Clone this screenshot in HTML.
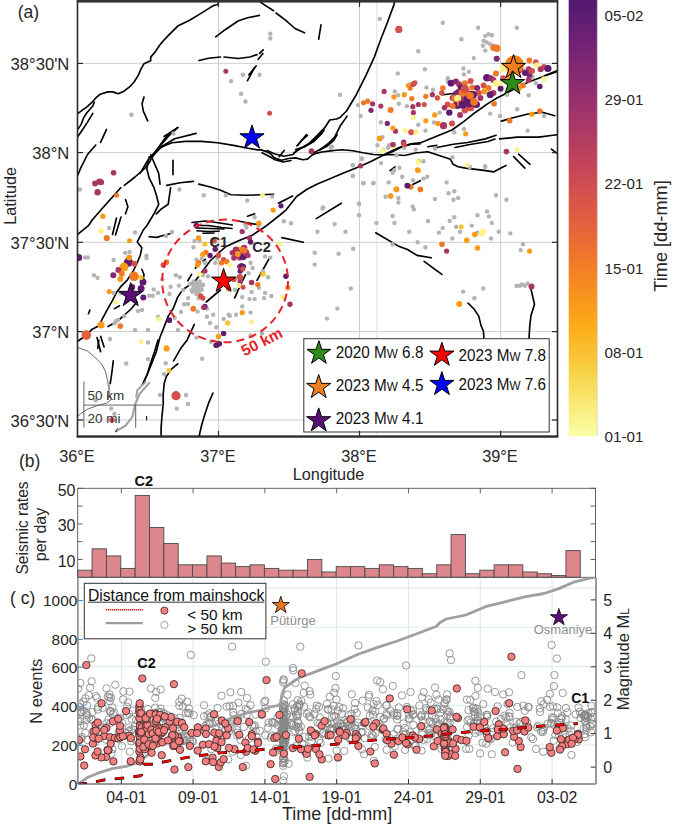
<!DOCTYPE html><html><head><meta charset="utf-8"><style>html,body{margin:0;padding:0;background:#fff;}svg{display:block;}</style></head><body><svg width="674" height="826" viewBox="0 0 674 826" font-family='"Liberation Sans", sans-serif'>
<rect x="0" y="0" width="674" height="826" fill="#fff"/>
<defs><clipPath id="mapclip"><rect x="77.5" y="1.5" width="480.0" height="434.8"/></clipPath>
<clipPath id="cclip"><rect x="77.9" y="577.6" width="517.8" height="206.4"/></clipPath>
<linearGradient id="cbar" x1="0" y1="0" x2="0" y2="1">
<stop offset="0.000" stop-color="#531971"/>
<stop offset="0.050" stop-color="#621e73"/>
<stop offset="0.100" stop-color="#712275"/>
<stop offset="0.150" stop-color="#802873"/>
<stop offset="0.200" stop-color="#8f2d70"/>
<stop offset="0.250" stop-color="#9e336c"/>
<stop offset="0.300" stop-color="#ad3a65"/>
<stop offset="0.350" stop-color="#bd405e"/>
<stop offset="0.400" stop-color="#c94955"/>
<stop offset="0.450" stop-color="#d6534b"/>
<stop offset="0.500" stop-color="#e15d41"/>
<stop offset="0.550" stop-color="#e96c34"/>
<stop offset="0.600" stop-color="#f17a28"/>
<stop offset="0.650" stop-color="#f68a21"/>
<stop offset="0.700" stop-color="#f99b1b"/>
<stop offset="0.750" stop-color="#fcac19"/>
<stop offset="0.800" stop-color="#fabe2f"/>
<stop offset="0.850" stop-color="#f7d146"/>
<stop offset="0.900" stop-color="#f8e163"/>
<stop offset="0.950" stop-color="#faf086"/>
<stop offset="1.000" stop-color="#fcffa9"/>
</linearGradient></defs>
<g stroke="#c8c8c8" stroke-width="0.9">
<line x1="218.5" y1="1.5" x2="218.5" y2="436.3"/>
<line x1="359.5" y1="1.5" x2="359.5" y2="436.3"/>
<line x1="500.6" y1="1.5" x2="500.6" y2="436.3"/>
<line x1="77.5" y1="63.4" x2="557.5" y2="63.4"/>
<line x1="77.5" y1="152.6" x2="557.5" y2="152.6"/>
<line x1="77.5" y1="242.3" x2="557.5" y2="242.3"/>
<line x1="77.5" y1="331.6" x2="557.5" y2="331.6"/>
<line x1="77.5" y1="420.0" x2="557.5" y2="420.0"/>
<line x1="376.8" y1="1.5" x2="376.8" y2="436.3" stroke="#dedede" stroke-width="0.9"/>
</g>
<g fill="none" stroke="#000" stroke-width="1.65" stroke-linecap="round" stroke-linejoin="round" clip-path="url(#mapclip)">
<polyline points="78.0,113.4 86.9,106.8 92.8,101.6 95.8,97.9 100.3,94.2 107.7,91.9 112.9,91.9 118.1,93.7 124.0,91.2 129.9,86.7 134.4,81.5 138.1,75.6 141.1,68.9 144.0,63.7 147.7,62.0 150.7,60.8 150.7,57.1 155.2,51.9 159.6,45.2 163.3,40.7 168.2,35.6 177.7,26.1 189.6,20.2 201.4,13.1 210.9,7.1 214.5,5.2 218.0,4.5 218.5,1.5"/>
<polyline points="94.3,102.3 92.8,106.0 86.9,112.7 83.9,117.2 81.0,124.6 78.0,129.0"/>
<polyline points="92.8,113.4 86.9,123.1 81.0,132.0 78.0,136.4"/>
<polyline points="215.7,36.8 225.2,29.7 238.0,21.0 247.5,17.8 259.4,15.4"/>
<polyline points="199.0,60.5 208.6,58.2 220.4,57.0"/>
<polyline points="224.0,57.0 238.0,58.5 249.9,57.0 257.0,54.6"/>
<polyline points="144.0,97.1 142.1,103.8 143.3,111.2 147.7,120.9"/>
<polyline points="106.5,129.4 100.6,142.4"/>
<polyline points="260.6,2.4 273.6,10.7"/>
<polyline points="276.0,13.0 285.5,20.2 295.0,28.5 304.5,32.8"/>
<polyline points="321.0,24.9 318.7,39.2"/>
<polyline points="258.2,59.3 262.9,53.4"/>
<polyline points="254.6,67.7 247.5,80.7"/>
<polyline points="394.5,1.5 393.9,4.9 387.3,22.8 380.8,39.2 374.3,57.1 366.1,75.1 356.3,94.7 346.5,111.0 340.0,117.5 336.5,119.0 329.7,120.0 324.8,127.7 317.1,135.5 309.4,143.2 299.7,149.0 293.9,152.9"/>
<polyline points="347.1,116.1 340.3,125.8 334.5,137.4 328.7,143.2 321.0,149.0 313.2,152.9"/>
<polyline points="306.5,134.5 297.7,145.2"/>
<polyline points="311.2,142.5 321.5,132.1"/>
<polyline points="284.2,150.4 279.2,156.7"/>
<polyline points="140.0,173.4 148.0,160.0 156.0,150.7 161.4,146.7 172.1,142.7 185.4,141.4 201.4,141.4 217.5,142.7 233.5,145.4 246.8,148.0 257.5,149.9 260.0,149.6 265.9,151.4 270.7,153.7 274.2,157.9 281.4,160.3 288.5,158.5 295.6,157.9 302.7,159.7 307.5,159.1 312.2,154.9 317.0,153.1 321.7,152.0 328.8,151.1 336.0,150.2 342.3,149.7 352.7,150.8 363.1,152.8 373.5,154.5 383.9,154.9 392.2,154.5 404.6,155.5 415.2,153.0 427.8,151.7 435.4,154.2 443.0,156.7 450.5,159.3 453.1,164.3 458.1,166.8 465.7,168.1 475.8,169.4 485.8,170.6 493.4,171.9 501.0,168.1 506.0,165.6"/>
<polyline points="262.0,152.8 269.0,156.2 275.0,159.8 283.0,162.0 291.0,160.5"/>
<polyline points="267.0,150.6 275.0,154.0 284.0,156.3 293.0,154.5 297.0,150.5"/>
<polyline points="295.6,149.6 305.1,146.6 313.4,141.9 321.7,133.6 324.1,130.0"/>
<polyline points="296.8,146.0 301.5,140.7 307.5,135.3"/>
<polyline points="319.3,150.2 326.5,146.6 333.6,140.7 337.2,134.7"/>
<polyline points="156.0,150.7 166.7,136.0 177.4,128.0"/>
<polyline points="161.4,146.7 174.7,138.7 196.1,133.4"/>
<polyline points="150.7,154.7 158.7,173.4 160.0,184.1"/>
<polyline points="166.7,185.4 180.1,182.8 193.4,181.4"/>
<polyline points="198.8,184.1 209.4,186.8 220.1,190.0 230.8,194.8 246.8,195.3 273.5,194.3"/>
<polyline points="383.9,154.9 392.2,151.8 402.6,146.6 410.9,144.1 420.0,144.0"/>
<polyline points="248.9,74.8 256.1,65.9"/>
<polyline points="259.6,53.4 263.2,49.9"/>
<polyline points="161.0,145.0 168.2,136.5 177.7,127.5"/>
<polyline points="164.0,136.4 178.0,127.5"/>
<polyline points="142.1,385.0 146.8,375.5 151.6,363.6 156.3,351.7 159.9,337.5 164.6,325.6 168.2,316.1 173.0,309.0 177.7,297.1 182.5,290.0 195.4,280.7 210.5,260.5 225.7,246.7 238.0,241.1 252.2,235.2 266.5,225.7 280.0,215.0 286.2,209.8 296.6,196.5 307.0,189.2 317.4,184.0 329.9,178.8 342.3,173.6 354.8,168.4 363.1,164.9 371.4,161.2 379.7,157.0 388.0,152.8 396.3,148.7 404.6,145.6 412.9,143.5 420.0,142.9 432.9,137.8 451.9,130.0 463.7,121.7 475.6,112.2 487.5,103.9 497.0,98.0 506.5,93.2 517.0,87.5 528.0,82.3 544.6,76.1 557.5,71.5"/>
<polyline points="545.0,75.5 557.5,70.5"/>
<polyline points="501.4,121.1 513.9,117.5 528.1,114.0 542.4,112.2 554.8,115.7"/>
<polyline points="442.8,94.8 451.2,93.7 461.5,92.7 471.9,91.7"/>
<polyline points="435.5,147.8 453.3,144.2 467.6,142.5 485.4,138.9 496.1,135.3"/>
<polyline points="455.0,147.5 470.0,144.5 488.0,141.5 495.0,139.0"/>
<polyline points="499.6,138.9 517.4,137.1 538.8,137.1 553.0,135.3 558.0,134.6"/>
<polyline points="427.8,146.7 436.7,145.4"/>
<polyline points="513.6,156.7 524.9,168.1"/>
<polyline points="518.6,154.2 530.0,164.3"/>
<polyline points="551.4,149.2 556.5,153.0"/>
<polyline points="390.0,170.6 395.0,166.8"/>
<polyline points="412.7,184.5 420.3,180.7"/>
<polyline points="95.8,145.0 87.5,154.5 80.4,168.7 78.0,174.7"/>
<polyline points="78.0,234.2 88.7,225.3 92.2,220.0 100.0,211.0 120.7,187.7"/>
<polyline points="124.3,185.4 135.0,177.0 144.5,168.7 149.2,162.8 151.6,158.0 156.3,152.1 161.1,147.4 165.8,145.0"/>
<polyline points="149.2,156.9 146.8,168.7 149.2,178.2 154.0,187.7 156.3,194.9 158.7,204.3 154.0,213.8 146.8,225.7 143.3,230.0 137.3,241.9 141.8,247.8 140.3,255.2 136.6,264.1 132.9,271.5 127.0,280.4 121.0,286.4 116.6,292.3 112.1,301.2 106.2,311.6 101.7,320.1 99.4,325.6 92.2,329.2 85.1,336.3 78.0,341.0"/>
<polyline points="173.0,160.4 173.0,174.7"/>
<polyline points="170.6,187.7 168.2,204.3 161.1,209.1 156.3,213.8"/>
<polyline points="125.5,199.6 127.9,206.7 125.5,213.8"/>
<polyline points="116.5,218.0 112.5,234.5"/>
<polyline points="121.0,217.0 115.5,235.0"/>
<polyline points="149.2,236.7 156.6,237.4 164.0,235.2 170.0,233.7"/>
<polyline points="278.4,203.2 292.6,196.0"/>
<polyline points="316.3,218.6 341.3,203.2"/>
<polyline points="281.9,237.6 303.3,242.3"/>
<polyline points="375.7,232.8 398.0,245.9 407.5,249.5 417.0,255.4 431.2,257.8"/>
<polyline points="424.1,261.3 433.6,268.4 441.9,274.4"/>
<polyline points="268.9,259.0 257.0,280.3"/>
<polyline points="238.0,221.0 257.0,224.5"/>
<polyline points="247.5,216.2 254.6,213.8"/>
<polyline points="141.8,269.3 144.0,274.5 143.3,279.0"/>
<polyline points="137.0,302.0 131.0,309.0 124.0,315.5 117.0,321.5 108.0,326.5"/>
<polyline points="119.5,305.7 114.4,308.6"/>
<polyline points="89.9,310.1 88.4,313.8"/>
<polyline points="97.0,337.5 100.6,351.7"/>
<polyline points="100.6,336.3 104.1,347.0"/>
<polyline points="98.8,340.0 97.7,348.3"/>
<polyline points="113.3,360.8 112.3,369.1 111.2,377.4 110.2,383.6"/>
<polyline points="158.0,340.0 154.9,350.4 150.7,362.8 147.6,373.2 144.5,380.5"/>
<polyline points="194.3,324.4 187.2,339.9 180.8,348.3 173.6,360.8"/>
<polyline points="177.7,363.9 171.5,369.1 166.3,376.4 164.2,383.6 163.2,394.0 163.2,404.4 162.1,414.8 161.1,427.2 161.1,436.3"/>
<polyline points="213.0,393.0 208.9,402.3 204.7,414.8 201.6,425.2 199.1,436.3"/>
<polyline points="220.4,290.0 213.3,296.0 206.2,302.0"/>
<polyline points="234.7,297.9 240.0,286.0 245.4,274.8"/>
<polyline points="468.0,303.1 474.0,309.0 478.7,316.1 481.1,325.6 483.5,331.5 483.9,338.7"/>
<polyline points="530.0,285.0 534.5,304.2 530.9,316.1 529.8,325.6 529.0,338.7"/>
<polyline points="117.5,429.3 116.0,431.5"/>
<polyline points="192.0,222.5 205.0,221.0 220.0,223.0 232.3,225.0"/>
<polyline points="194.0,225.5 208.0,225.5 222.0,227.5 232.0,228.5"/>
<polyline points="196.0,228.0 210.0,228.5 224.0,229.0"/>
<polyline points="197.0,230.8 208.0,231.5 219.0,231.2"/>
<polyline points="203.0,233.2 214.0,233.0"/>
<polyline points="187.8,280.7 191.6,274.4"/>
<polyline points="195.4,268.1 200.4,263.1"/>
<polyline points="203.0,261.0 205.5,259.3"/>
</g>
<g fill="none" stroke-linecap="round" stroke-linejoin="round" clip-path="url(#mapclip)">
<polyline stroke="#555" stroke-width="0.9" points="78,347.5 87.5,351 94.6,357 101.7,364.1 105.3,371.2 107.7,380.7 108.9,390.2 111.2,399.7 106.5,403.3 97,405.6 87.5,409.2 80.4,413.9 78,416"/>
<polyline stroke="#a3a3a3" stroke-width="2.2" points="149.2,383.1 139.7,393.8 135,404.5 132.6,416.3 125.5,425.8 117.2,430.6"/>
<polyline stroke="#a3a3a3" stroke-width="2" points="145.7,381.9 137.3,390.2 136.2,397.3"/>
<polyline stroke="#a3a3a3" stroke-width="1.8" points="109.2,385.7 108.7,394 108.1,399.2"/>
<path d="M146.3,416.5 q0.9,1.6 0.2,3.2" stroke="#000" stroke-width="1.1"/>
</g>
<g clip-path="url(#mapclip)">
<g fill="#b4b4b4">
<circle cx="330.9" cy="147.7" r="2.2"/>
<circle cx="361.7" cy="158.5" r="2.2"/>
<circle cx="352.9" cy="165.1" r="2.2"/>
<circle cx="352.9" cy="175.9" r="2.2"/>
<circle cx="363.7" cy="183.2" r="2.2"/>
<circle cx="373.3" cy="183.2" r="2.2"/>
<circle cx="404.2" cy="147.7" r="2.2"/>
<circle cx="396.5" cy="155.4" r="2.2"/>
<circle cx="399.5" cy="167.8" r="2.2"/>
<circle cx="392.6" cy="172.8" r="2.2"/>
<circle cx="402.2" cy="176.7" r="2.2"/>
<circle cx="427.3" cy="176.7" r="2.2"/>
<circle cx="423.5" cy="178.6" r="2.2"/>
<circle cx="385.6" cy="196.7" r="2.2"/>
<circle cx="398.4" cy="197.9" r="2.2"/>
<circle cx="398.4" cy="202.5" r="2.2"/>
<circle cx="412.7" cy="206.4" r="2.2"/>
<circle cx="413.8" cy="209.4" r="2.2"/>
<circle cx="435.0" cy="199.0" r="2.2"/>
<circle cx="446.6" cy="182.4" r="2.2"/>
<circle cx="448.5" cy="193.2" r="2.2"/>
<circle cx="454.3" cy="191.3" r="2.2"/>
<circle cx="458.2" cy="197.9" r="2.2"/>
<circle cx="453.5" cy="199.8" r="2.2"/>
<circle cx="469.8" cy="167.0" r="2.2"/>
<circle cx="485.2" cy="167.0" r="2.2"/>
<circle cx="496.0" cy="195.2" r="2.2"/>
<circle cx="506.4" cy="199.8" r="2.2"/>
<circle cx="323.1" cy="207.5" r="2.2"/>
<circle cx="334.7" cy="224.1" r="2.2"/>
<circle cx="317.4" cy="231.8" r="2.2"/>
<circle cx="345.5" cy="231.8" r="2.2"/>
<circle cx="359.0" cy="203.7" r="2.2"/>
<circle cx="359.0" cy="215.2" r="2.2"/>
<circle cx="376.4" cy="222.9" r="2.2"/>
<circle cx="392.6" cy="216.0" r="2.2"/>
<circle cx="394.5" cy="223.0" r="2.2"/>
<circle cx="409.2" cy="231.8" r="2.2"/>
<circle cx="428.1" cy="221.0" r="2.2"/>
<circle cx="449.7" cy="221.0" r="2.2"/>
<circle cx="454.3" cy="217.2" r="2.2"/>
<circle cx="456.2" cy="226.8" r="2.2"/>
<circle cx="442.7" cy="228.0" r="2.2"/>
<circle cx="438.9" cy="232.6" r="2.2"/>
<circle cx="452.4" cy="238.4" r="2.2"/>
<circle cx="460.1" cy="231.8" r="2.2"/>
<circle cx="471.7" cy="225.6" r="2.2"/>
<circle cx="477.5" cy="215.2" r="2.2"/>
<circle cx="487.1" cy="211.4" r="2.2"/>
<circle cx="489.0" cy="216.4" r="2.2"/>
<circle cx="491.7" cy="222.9" r="2.2"/>
<circle cx="491.0" cy="238.4" r="2.2"/>
<circle cx="498.7" cy="231.8" r="2.2"/>
<circle cx="510.3" cy="233.4" r="2.2"/>
<circle cx="477.5" cy="232.6" r="2.2"/>
<circle cx="417.7" cy="242.2" r="2.2"/>
<circle cx="425.4" cy="247.3" r="2.2"/>
<circle cx="392.6" cy="244.2" r="2.2"/>
<circle cx="314.7" cy="252.7" r="2.2"/>
<circle cx="338.6" cy="253.8" r="2.2"/>
<circle cx="353.2" cy="248.8" r="2.2"/>
<circle cx="314.7" cy="264.6" r="2.2"/>
<circle cx="523.0" cy="244.2" r="2.2"/>
<circle cx="520.7" cy="250.0" r="2.2"/>
<circle cx="350.9" cy="288.5" r="2.2"/>
<circle cx="337.4" cy="308.6" r="2.2"/>
<circle cx="327.0" cy="318.6" r="2.2"/>
<circle cx="483.3" cy="288.5" r="2.2"/>
<circle cx="463.2" cy="291.6" r="2.2"/>
<circle cx="474.4" cy="298.2" r="2.2"/>
<circle cx="519.9" cy="285.8" r="2.2"/>
<circle cx="524.9" cy="285.8" r="2.2"/>
<circle cx="527.6" cy="283.5" r="2.2"/>
<circle cx="381.0" cy="163.1" r="2.2"/>
<circle cx="383.0" cy="149.6" r="2.2"/>
<circle cx="388.0" cy="147.7" r="2.2"/>
<circle cx="415.7" cy="149.6" r="2.2"/>
<circle cx="423.5" cy="161.2" r="2.2"/>
<circle cx="435.0" cy="148.5" r="2.2"/>
<circle cx="452.4" cy="157.4" r="2.2"/>
<circle cx="485.2" cy="166.2" r="2.2"/>
<circle cx="388.7" cy="182.4" r="2.2"/>
<circle cx="413.0" cy="180.5" r="2.2"/>
<circle cx="394.5" cy="170.1" r="2.2"/>
<circle cx="522.0" cy="284.5" r="2.2"/>
<circle cx="516.5" cy="286.0" r="2.2"/>
<circle cx="379.8" cy="18.9" r="2.2"/>
<circle cx="442.8" cy="22.8" r="2.2"/>
<circle cx="478.1" cy="27.7" r="2.2"/>
<circle cx="516.9" cy="27.7" r="2.2"/>
<circle cx="461.4" cy="39.2" r="2.2"/>
<circle cx="418.3" cy="51.2" r="2.2"/>
<circle cx="485.3" cy="35.9" r="2.2"/>
<circle cx="488.5" cy="34.3" r="2.2"/>
<circle cx="491.8" cy="35.3" r="2.2"/>
<circle cx="483.6" cy="40.8" r="2.2"/>
<circle cx="486.9" cy="42.4" r="2.2"/>
<circle cx="490.2" cy="44.1" r="2.2"/>
<circle cx="493.4" cy="45.7" r="2.2"/>
<circle cx="483.0" cy="45.7" r="2.2"/>
<circle cx="485.3" cy="50.6" r="2.2"/>
<circle cx="498.3" cy="49.0" r="2.2"/>
<circle cx="473.8" cy="58.1" r="2.2"/>
<circle cx="424.9" cy="69.2" r="2.2"/>
<circle cx="397.8" cy="73.4" r="2.2"/>
<circle cx="463.4" cy="68.5" r="2.2"/>
<circle cx="468.9" cy="71.8" r="2.2"/>
<circle cx="464.0" cy="74.4" r="2.2"/>
<circle cx="447.7" cy="78.3" r="2.2"/>
<circle cx="447.7" cy="81.6" r="2.2"/>
<circle cx="415.7" cy="82.3" r="2.2"/>
<circle cx="410.2" cy="84.2" r="2.2"/>
<circle cx="394.8" cy="91.4" r="2.2"/>
<circle cx="398.1" cy="95.3" r="2.2"/>
<circle cx="358.0" cy="105.1" r="2.2"/>
<circle cx="360.6" cy="115.9" r="2.2"/>
<circle cx="380.8" cy="122.4" r="2.2"/>
<circle cx="398.8" cy="103.8" r="2.2"/>
<circle cx="406.9" cy="106.1" r="2.2"/>
<circle cx="418.3" cy="124.7" r="2.2"/>
<circle cx="434.0" cy="122.4" r="2.2"/>
<circle cx="425.5" cy="130.6" r="2.2"/>
<circle cx="439.6" cy="112.6" r="2.2"/>
<circle cx="490.2" cy="113.6" r="2.2"/>
<circle cx="500.0" cy="115.9" r="2.2"/>
<circle cx="507.1" cy="94.7" r="2.2"/>
<circle cx="528.7" cy="95.3" r="2.2"/>
<circle cx="517.2" cy="109.3" r="2.2"/>
<circle cx="527.7" cy="130.6" r="2.2"/>
<circle cx="544.0" cy="115.9" r="2.2"/>
<circle cx="518.9" cy="71.8" r="2.2"/>
<circle cx="523.4" cy="70.2" r="2.2"/>
<circle cx="532.6" cy="76.7" r="2.2"/>
<circle cx="535.8" cy="83.2" r="2.2"/>
<circle cx="382.4" cy="137.1" r="2.2"/>
<circle cx="377.5" cy="145.3" r="2.2"/>
<circle cx="389.0" cy="145.3" r="2.2"/>
<circle cx="454.2" cy="132.2" r="2.2"/>
<circle cx="464.0" cy="128.9" r="2.2"/>
<circle cx="433.0" cy="89.8" r="2.2"/>
<circle cx="426.5" cy="87.5" r="2.2"/>
<circle cx="340.0" cy="94.7" r="2.2"/>
<circle cx="270.3" cy="33.8" r="2.2"/>
<circle cx="270.3" cy="38.5" r="2.2"/>
<circle cx="242.9" cy="74.8" r="2.2"/>
<circle cx="259.6" cy="74.8" r="2.2"/>
<circle cx="231.1" cy="81.2" r="2.2"/>
<circle cx="241.1" cy="93.7" r="2.2"/>
<circle cx="245.4" cy="101.5" r="2.2"/>
<circle cx="131.4" cy="114.7" r="2.2"/>
<circle cx="173.4" cy="133.5" r="2.2"/>
<circle cx="179.5" cy="189.5" r="2.2"/>
<circle cx="203.7" cy="195.2" r="2.2"/>
<circle cx="225.8" cy="195.2" r="2.2"/>
<circle cx="247.2" cy="200.5" r="2.2"/>
<circle cx="272.1" cy="196.6" r="2.2"/>
<circle cx="79.8" cy="189.5" r="2.2"/>
<circle cx="332.0" cy="146.6" r="2.2"/>
<circle cx="362.0" cy="159.0" r="2.2"/>
<circle cx="352.7" cy="165.3" r="2.2"/>
<circle cx="352.7" cy="175.7" r="2.2"/>
<circle cx="363.1" cy="183.0" r="2.2"/>
<circle cx="373.5" cy="183.0" r="2.2"/>
<circle cx="359.0" cy="203.7" r="2.2"/>
<circle cx="322.6" cy="208.5" r="2.2"/>
<circle cx="126.2" cy="363.5" r="2.2"/>
<circle cx="148.0" cy="359.1" r="2.2"/>
<circle cx="148.0" cy="342.5" r="2.2"/>
<circle cx="165.7" cy="363.3" r="2.2"/>
<circle cx="164.2" cy="374.3" r="2.2"/>
<circle cx="202.2" cy="358.7" r="2.2"/>
<circle cx="176.7" cy="408.6" r="2.2"/>
<circle cx="95.7" cy="400.2" r="2.2"/>
<circle cx="111.2" cy="408.6" r="2.2"/>
<circle cx="114.4" cy="413.7" r="2.2"/>
<circle cx="135.0" cy="232.5" r="2.2"/>
<circle cx="125.2" cy="252.9" r="2.2"/>
<circle cx="129.6" cy="252.0" r="2.2"/>
<circle cx="146.5" cy="255.6" r="2.2"/>
<circle cx="146.5" cy="258.3" r="2.2"/>
<circle cx="113.6" cy="260.0" r="2.2"/>
<circle cx="94.0" cy="275.2" r="2.2"/>
<circle cx="97.6" cy="277.9" r="2.2"/>
<circle cx="113.6" cy="293.0" r="2.2"/>
<circle cx="120.7" cy="293.0" r="2.2"/>
<circle cx="153.7" cy="289.4" r="2.2"/>
<circle cx="149.2" cy="295.7" r="2.2"/>
<circle cx="152.8" cy="295.7" r="2.2"/>
<circle cx="142.1" cy="309.9" r="2.2"/>
<circle cx="124.3" cy="316.1" r="2.2"/>
<circle cx="116.3" cy="320.6" r="2.2"/>
<circle cx="114.5" cy="323.3" r="2.2"/>
<circle cx="109.2" cy="228.0" r="2.2"/>
<circle cx="85.1" cy="257.4" r="2.2"/>
<circle cx="87.8" cy="257.4" r="2.2"/>
<circle cx="166.0" cy="236.0" r="2.2"/>
<circle cx="172.0" cy="232.0" r="2.2"/>
<circle cx="183.0" cy="290.0" r="2.2"/>
<circle cx="110.0" cy="339.0" r="2.2"/>
<circle cx="118.0" cy="320.0" r="2.2"/>
<circle cx="135.0" cy="330.0" r="2.2"/>
<circle cx="148.0" cy="330.0" r="2.2"/>
<circle cx="138.0" cy="311.0" r="2.2"/>
<circle cx="158.0" cy="293.0" r="2.2"/>
<circle cx="181.0" cy="312.0" r="2.2"/>
<circle cx="188.0" cy="304.0" r="2.2"/>
<circle cx="178.0" cy="330.0" r="2.2"/>
<circle cx="160.0" cy="395.0" r="2.2"/>
<circle cx="186.0" cy="395.0" r="2.2"/>
<circle cx="188.0" cy="404.0" r="2.2"/>
<circle cx="194.5" cy="241.0" r="2.2"/>
<circle cx="193.4" cy="247.2" r="2.2"/>
<circle cx="199.7" cy="241.0" r="2.2"/>
<circle cx="201.7" cy="258.6" r="2.2"/>
<circle cx="196.5" cy="259.7" r="2.2"/>
<circle cx="197.6" cy="264.9" r="2.2"/>
<circle cx="204.9" cy="262.8" r="2.2"/>
<circle cx="215.2" cy="262.8" r="2.2"/>
<circle cx="217.3" cy="258.6" r="2.2"/>
<circle cx="202.8" cy="275.2" r="2.2"/>
<circle cx="197.6" cy="282.5" r="2.2"/>
<circle cx="195.5" cy="285.6" r="2.2"/>
<circle cx="199.7" cy="286.7" r="2.2"/>
<circle cx="193.4" cy="287.7" r="2.2"/>
<circle cx="195.5" cy="289.8" r="2.2"/>
<circle cx="192.4" cy="291.9" r="2.2"/>
<circle cx="198.6" cy="291.9" r="2.2"/>
<circle cx="201.7" cy="285.6" r="2.2"/>
<circle cx="175.8" cy="275.2" r="2.2"/>
<circle cx="179.9" cy="277.3" r="2.2"/>
<circle cx="162.3" cy="279.4" r="2.2"/>
<circle cx="170.6" cy="286.7" r="2.2"/>
<circle cx="178.9" cy="285.6" r="2.2"/>
<circle cx="169.5" cy="293.9" r="2.2"/>
<circle cx="188.2" cy="298.1" r="2.2"/>
<circle cx="184.1" cy="304.3" r="2.2"/>
<circle cx="198.6" cy="298.1" r="2.2"/>
<circle cx="206.9" cy="308.5" r="2.2"/>
<circle cx="197.6" cy="311.6" r="2.2"/>
<circle cx="206.9" cy="316.8" r="2.2"/>
<circle cx="213.2" cy="314.7" r="2.2"/>
<circle cx="229.8" cy="315.7" r="2.2"/>
<circle cx="235.0" cy="289.8" r="2.2"/>
<circle cx="238.1" cy="277.3" r="2.2"/>
<circle cx="242.2" cy="297.1" r="2.2"/>
<circle cx="249.5" cy="299.1" r="2.2"/>
<circle cx="254.7" cy="299.1" r="2.2"/>
<circle cx="251.6" cy="291.9" r="2.2"/>
<circle cx="242.2" cy="306.4" r="2.2"/>
<circle cx="236.0" cy="314.7" r="2.2"/>
<circle cx="250.6" cy="312.6" r="2.2"/>
<circle cx="264.1" cy="298.1" r="2.2"/>
<circle cx="265.1" cy="292.9" r="2.2"/>
<circle cx="258.9" cy="287.7" r="2.2"/>
<circle cx="271.3" cy="296.0" r="2.2"/>
<circle cx="268.2" cy="277.3" r="2.2"/>
<circle cx="263.0" cy="271.1" r="2.2"/>
<circle cx="265.1" cy="256.5" r="2.2"/>
<circle cx="270.3" cy="257.6" r="2.2"/>
<circle cx="250.6" cy="262.8" r="2.2"/>
<circle cx="252.6" cy="268.0" r="2.2"/>
<circle cx="248.5" cy="273.2" r="2.2"/>
<circle cx="246.4" cy="227.5" r="2.2"/>
<circle cx="245.4" cy="224.3" r="2.2"/>
<circle cx="258.9" cy="225.4" r="2.2"/>
<circle cx="254.7" cy="217.1" r="2.2"/>
<circle cx="283.8" cy="221.2" r="2.2"/>
<circle cx="291.1" cy="223.3" r="2.2"/>
<circle cx="279.6" cy="244.1" r="2.2"/>
<circle cx="210.0" cy="323.0" r="2.2"/>
<circle cx="223.6" cy="318.9" r="2.2"/>
<circle cx="228.7" cy="314.7" r="2.2"/>
<circle cx="216.3" cy="327.2" r="2.2"/>
<circle cx="196.5" cy="337.6" r="2.2"/>
<circle cx="262.0" cy="333.4" r="2.2"/>
<circle cx="250.6" cy="335.5" r="2.2"/>
<circle cx="158.1" cy="316.8" r="2.2"/>
<circle cx="174.7" cy="317.8" r="2.2"/>
<circle cx="211.1" cy="341.7" r="2.2"/>
<circle cx="208.0" cy="276.3" r="2.2"/>
<circle cx="201.7" cy="289.8" r="2.2"/>
<circle cx="193.4" cy="281.5" r="2.2"/>
<circle cx="195.5" cy="283.6" r="2.2"/>
<circle cx="196.5" cy="283.6" r="2.2"/>
<circle cx="194.5" cy="286.7" r="2.2"/>
<circle cx="197.6" cy="288.7" r="2.2"/>
<circle cx="199.7" cy="281.5" r="2.2"/>
<circle cx="196.5" cy="293.9" r="2.2"/>
<circle cx="194.1" cy="285.2" r="2.2"/>
<circle cx="198.6" cy="284.6" r="2.2"/>
<circle cx="203.1" cy="285.1" r="2.2"/>
<circle cx="195.4" cy="291.1" r="2.2"/>
<circle cx="198.4" cy="286.6" r="2.2"/>
<circle cx="203.0" cy="284.7" r="2.2"/>
<circle cx="190.0" cy="284.1" r="2.2"/>
<circle cx="191.5" cy="290.1" r="2.2"/>
<circle cx="199.1" cy="282.9" r="2.2"/>
<circle cx="198.0" cy="290.2" r="2.2"/>
</g>
<circle cx="225.8" cy="71.2" r="2.5" fill="#a83665"/>
<circle cx="269.6" cy="113.2" r="2.5" fill="#d4504a"/>
<circle cx="311.3" cy="151.4" r="2.6" fill="#a83665"/>
<circle cx="113.6" cy="172.7" r="2.8" fill="#a83665"/>
<circle cx="95.1" cy="183.4" r="3.0" fill="#a83665"/>
<circle cx="99.4" cy="181.6" r="3.2" fill="#a83665"/>
<circle cx="101.1" cy="182.3" r="3.0" fill="#a83665"/>
<circle cx="97.6" cy="192.3" r="3.2" fill="#a83665"/>
<circle cx="116.5" cy="195.2" r="2.5" fill="#f17926"/>
<circle cx="102.9" cy="216.2" r="2.7" fill="#f99a19"/>
<circle cx="262.5" cy="195.2" r="2.5" fill="#faf38b"/>
<circle cx="273.2" cy="210.1" r="2.6" fill="#f99a19"/>
<circle cx="281.0" cy="205.8" r="2.6" fill="#601b71"/>
<circle cx="101.0" cy="230.5" r="2.5" fill="#faf38b"/>
<circle cx="106.5" cy="238.0" r="2.7" fill="#f17926"/>
<circle cx="128.4" cy="262.3" r="4.5" fill="#601b71"/>
<circle cx="124.0" cy="267.1" r="4.5" fill="#f99a19"/>
<circle cx="129.2" cy="257.4" r="3.0" fill="#f99a19"/>
<circle cx="134.4" cy="263.8" r="3.0" fill="#d4504a"/>
<circle cx="118.4" cy="270.1" r="3.0" fill="#a83665"/>
<circle cx="121.8" cy="273.8" r="3.0" fill="#f17926"/>
<circle cx="113.3" cy="275.3" r="3.0" fill="#822771"/>
<circle cx="120.3" cy="279.0" r="3.0" fill="#f99a19"/>
<circle cx="134.1" cy="276.3" r="4.8" fill="#f17926"/>
<circle cx="143.0" cy="281.9" r="3.5" fill="#601b71"/>
<circle cx="141.1" cy="288.6" r="3.5" fill="#601b71"/>
<circle cx="143.3" cy="297.5" r="3.0" fill="#601b71"/>
<circle cx="132.2" cy="287.1" r="3.0" fill="#601b71"/>
<circle cx="141.1" cy="277.5" r="2.5" fill="#f9c334"/>
<circle cx="115.8" cy="302.3" r="2.5" fill="#faf38b"/>
<circle cx="109.2" cy="291.6" r="2.6" fill="#f99a19"/>
<circle cx="129.5" cy="240.8" r="2.5" fill="#f99a19"/>
<circle cx="106.9" cy="238.2" r="3.0" fill="#f17926"/>
<circle cx="101.0" cy="231.2" r="2.5" fill="#faf38b"/>
<circle cx="78.7" cy="257.4" r="3.5" fill="#601b71"/>
<circle cx="163.3" cy="264.9" r="2.5" fill="#d4504a"/>
<circle cx="166.7" cy="261.9" r="2.5" fill="#f17926"/>
<circle cx="86.3" cy="335.1" r="4.8" fill="#e3603b"/>
<circle cx="101.0" cy="325.1" r="3.5" fill="#f99a19"/>
<circle cx="120.3" cy="326.1" r="2.8" fill="#f17926"/>
<circle cx="140.9" cy="341.5" r="2.3" fill="#faf38b"/>
<circle cx="166.7" cy="348.7" r="2.9" fill="#f99a19"/>
<circle cx="169.0" cy="370.5" r="2.5" fill="#f9c334"/>
<circle cx="176.0" cy="395.7" r="4.6" fill="#d4504a"/>
<circle cx="169.4" cy="320.4" r="2.6" fill="#601b71"/>
<circle cx="112.0" cy="420.0" r="2.8" fill="#d4504a"/>
<circle cx="141.4" cy="341.7" r="2.3" fill="#faf38b"/>
<circle cx="216.1" cy="345.2" r="2.8" fill="#601b71"/>
<circle cx="193.1" cy="309.0" r="2.6" fill="#f17926"/>
<circle cx="398.8" cy="29.4" r="3.6" fill="#d4504a"/>
<circle cx="496.7" cy="48.3" r="3.8" fill="#f17926"/>
<circle cx="493.5" cy="47.8" r="3.2" fill="#f17926"/>
<circle cx="496.7" cy="58.8" r="3.0" fill="#822771"/>
<circle cx="503.2" cy="68.5" r="3.8" fill="#faf38b"/>
<circle cx="529.3" cy="60.4" r="2.8" fill="#f17926"/>
<circle cx="535.8" cy="62.0" r="2.8" fill="#d4504a"/>
<circle cx="536.8" cy="65.3" r="2.8" fill="#faf38b"/>
<circle cx="544.0" cy="66.9" r="2.8" fill="#d4504a"/>
<circle cx="547.9" cy="68.5" r="3.6" fill="#601b71"/>
<circle cx="540.7" cy="69.2" r="3.0" fill="#a83665"/>
<circle cx="528.7" cy="69.2" r="3.0" fill="#a83665"/>
<circle cx="529.3" cy="75.1" r="3.0" fill="#822771"/>
<circle cx="528.7" cy="80.0" r="3.0" fill="#a83665"/>
<circle cx="544.0" cy="79.0" r="2.8" fill="#faf38b"/>
<circle cx="539.8" cy="86.5" r="2.8" fill="#601b71"/>
<circle cx="522.8" cy="85.5" r="3.0" fill="#f17926"/>
<circle cx="518.9" cy="88.1" r="2.8" fill="#f99a19"/>
<circle cx="525.0" cy="73.0" r="3.0" fill="#601b71"/>
<circle cx="532.0" cy="71.0" r="3.0" fill="#d4504a"/>
<circle cx="520.0" cy="70.0" r="3.0" fill="#a83665"/>
<circle cx="486.9" cy="77.7" r="3.8" fill="#601b71"/>
<circle cx="490.8" cy="78.3" r="3.0" fill="#822771"/>
<circle cx="493.4" cy="80.0" r="3.0" fill="#a83665"/>
<circle cx="496.0" cy="83.2" r="3.2" fill="#faf38b"/>
<circle cx="500.0" cy="85.5" r="3.4" fill="#faf38b"/>
<circle cx="483.6" cy="85.5" r="3.0" fill="#d4504a"/>
<circle cx="488.5" cy="88.1" r="3.0" fill="#f17926"/>
<circle cx="493.4" cy="93.0" r="3.0" fill="#a83665"/>
<circle cx="490.2" cy="94.7" r="3.4" fill="#601b71"/>
<circle cx="484.3" cy="91.4" r="3.0" fill="#f99a19"/>
<circle cx="496.0" cy="73.4" r="3.0" fill="#f17926"/>
<circle cx="503.2" cy="78.3" r="3.0" fill="#d4504a"/>
<circle cx="500.6" cy="88.8" r="3.0" fill="#601b71"/>
<circle cx="509.7" cy="78.3" r="2.8" fill="#f99a19"/>
<circle cx="451.0" cy="83.2" r="3.4" fill="#601b71"/>
<circle cx="455.9" cy="81.6" r="3.0" fill="#822771"/>
<circle cx="459.1" cy="84.2" r="3.0" fill="#a83665"/>
<circle cx="465.0" cy="83.2" r="3.0" fill="#f17926"/>
<circle cx="470.6" cy="81.0" r="3.0" fill="#d4504a"/>
<circle cx="461.4" cy="88.1" r="3.6" fill="#601b71"/>
<circle cx="466.6" cy="92.0" r="3.2" fill="#d4504a"/>
<circle cx="472.2" cy="87.5" r="3.0" fill="#f17926"/>
<circle cx="477.1" cy="88.1" r="3.0" fill="#822771"/>
<circle cx="455.9" cy="94.7" r="3.6" fill="#601b71"/>
<circle cx="452.6" cy="97.9" r="3.0" fill="#a83665"/>
<circle cx="457.5" cy="104.5" r="4.6" fill="#601b71"/>
<circle cx="462.4" cy="97.9" r="3.2" fill="#faf38b"/>
<circle cx="468.0" cy="103.8" r="4.6" fill="#f17926"/>
<circle cx="473.8" cy="101.2" r="3.2" fill="#d4504a"/>
<circle cx="470.6" cy="107.7" r="3.6" fill="#d4504a"/>
<circle cx="476.4" cy="104.5" r="3.6" fill="#601b71"/>
<circle cx="480.4" cy="97.9" r="3.0" fill="#a83665"/>
<circle cx="478.7" cy="93.0" r="3.0" fill="#d4504a"/>
<circle cx="447.7" cy="104.5" r="3.0" fill="#d4504a"/>
<circle cx="449.3" cy="112.6" r="3.2" fill="#601b71"/>
<circle cx="460.1" cy="114.9" r="3.0" fill="#a83665"/>
<circle cx="442.8" cy="88.1" r="2.8" fill="#f17926"/>
<circle cx="441.8" cy="93.0" r="2.8" fill="#d4504a"/>
<circle cx="437.9" cy="97.9" r="2.8" fill="#faf38b"/>
<circle cx="444.5" cy="107.7" r="2.8" fill="#a83665"/>
<circle cx="452.6" cy="106.1" r="3.0" fill="#f17926"/>
<circle cx="465.0" cy="110.0" r="3.4" fill="#d4504a"/>
<circle cx="470.0" cy="96.0" r="3.4" fill="#d4504a"/>
<circle cx="458.0" cy="92.0" r="3.0" fill="#a83665"/>
<circle cx="384.1" cy="91.4" r="2.6" fill="#a83665"/>
<circle cx="393.9" cy="96.9" r="2.6" fill="#f99a19"/>
<circle cx="404.3" cy="94.7" r="2.6" fill="#f99a19"/>
<circle cx="408.5" cy="85.5" r="2.6" fill="#f99a19"/>
<circle cx="413.4" cy="84.2" r="2.6" fill="#a83665"/>
<circle cx="410.2" cy="88.1" r="2.6" fill="#f17926"/>
<circle cx="363.5" cy="102.8" r="2.6" fill="#f17926"/>
<circle cx="367.7" cy="101.2" r="2.6" fill="#f17926"/>
<circle cx="372.6" cy="103.8" r="2.6" fill="#a83665"/>
<circle cx="371.0" cy="110.3" r="2.6" fill="#822771"/>
<circle cx="380.8" cy="106.1" r="2.6" fill="#a83665"/>
<circle cx="390.6" cy="110.0" r="3.0" fill="#f17926"/>
<circle cx="411.8" cy="98.6" r="2.6" fill="#f17926"/>
<circle cx="412.8" cy="106.7" r="2.6" fill="#a83665"/>
<circle cx="418.3" cy="104.5" r="2.6" fill="#a83665"/>
<circle cx="424.2" cy="104.5" r="2.6" fill="#d4504a"/>
<circle cx="437.3" cy="97.9" r="2.6" fill="#d4504a"/>
<circle cx="432.4" cy="94.7" r="2.6" fill="#a83665"/>
<circle cx="413.4" cy="112.6" r="2.6" fill="#a83665"/>
<circle cx="413.4" cy="117.5" r="2.6" fill="#faf38b"/>
<circle cx="425.8" cy="120.8" r="2.6" fill="#f99a19"/>
<circle cx="434.7" cy="114.9" r="2.6" fill="#f99a19"/>
<circle cx="437.9" cy="123.4" r="2.6" fill="#f99a19"/>
<circle cx="443.5" cy="125.7" r="3.6" fill="#a83665"/>
<circle cx="452.0" cy="123.4" r="3.0" fill="#d4504a"/>
<circle cx="405.3" cy="130.6" r="2.6" fill="#faf38b"/>
<circle cx="411.2" cy="132.2" r="3.0" fill="#d4504a"/>
<circle cx="416.1" cy="132.2" r="2.6" fill="#faf38b"/>
<circle cx="395.5" cy="131.2" r="2.6" fill="#a83665"/>
<circle cx="392.9" cy="128.0" r="2.6" fill="#f99a19"/>
<circle cx="387.3" cy="123.4" r="2.6" fill="#822771"/>
<circle cx="379.8" cy="138.7" r="2.6" fill="#f17926"/>
<circle cx="403.7" cy="142.0" r="2.6" fill="#822771"/>
<circle cx="393.2" cy="146.2" r="2.6" fill="#faf38b"/>
<circle cx="465.7" cy="133.8" r="2.6" fill="#f99a19"/>
<circle cx="494.1" cy="103.8" r="2.8" fill="#f17926"/>
<circle cx="425.8" cy="96.3" r="2.6" fill="#f17926"/>
<circle cx="414.4" cy="83.2" r="2.6" fill="#d4504a"/>
<circle cx="539.8" cy="111.0" r="2.8" fill="#f17926"/>
<circle cx="509.7" cy="120.8" r="2.8" fill="#f17926"/>
<circle cx="531.9" cy="114.2" r="2.6" fill="#f99a19"/>
<circle cx="311.6" cy="150.8" r="2.6" fill="#a83665"/>
<circle cx="360.6" cy="165.8" r="2.6" fill="#a83665"/>
<circle cx="403.4" cy="143.1" r="2.6" fill="#a83665"/>
<circle cx="392.6" cy="144.6" r="2.6" fill="#d4504a"/>
<circle cx="383.0" cy="150.8" r="2.5" fill="#faf38b"/>
<circle cx="418.8" cy="161.2" r="2.5" fill="#f9c334"/>
<circle cx="417.7" cy="170.1" r="2.8" fill="#f99a19"/>
<circle cx="396.5" cy="189.4" r="2.8" fill="#f99a19"/>
<circle cx="390.7" cy="195.9" r="2.6" fill="#f17926"/>
<circle cx="407.3" cy="185.5" r="2.8" fill="#601b71"/>
<circle cx="410.7" cy="187.1" r="2.6" fill="#f17926"/>
<circle cx="420.4" cy="189.4" r="2.8" fill="#f17926"/>
<circle cx="467.1" cy="165.1" r="2.5" fill="#faf38b"/>
<circle cx="506.4" cy="151.6" r="2.8" fill="#a83665"/>
<circle cx="517.2" cy="149.6" r="2.5" fill="#faf38b"/>
<circle cx="461.3" cy="226.8" r="2.5" fill="#f9c334"/>
<circle cx="474.8" cy="234.5" r="2.8" fill="#f99a19"/>
<circle cx="481.3" cy="233.4" r="3.0" fill="#faf38b"/>
<circle cx="483.3" cy="231.4" r="3.0" fill="#faf38b"/>
<circle cx="466.7" cy="240.3" r="2.8" fill="#f99a19"/>
<circle cx="477.5" cy="248.0" r="2.8" fill="#f99a19"/>
<circle cx="442.0" cy="244.2" r="2.8" fill="#f17926"/>
<circle cx="446.6" cy="251.1" r="2.6" fill="#a83665"/>
<circle cx="529.6" cy="251.1" r="2.6" fill="#f99a19"/>
<circle cx="531.5" cy="286.6" r="3.0" fill="#a83665"/>
<circle cx="459.3" cy="304.0" r="3.0" fill="#f99a19"/>
<circle cx="379.7" cy="138.3" r="2.8" fill="#f99a19"/>
<circle cx="393.2" cy="144.5" r="2.6" fill="#a83665"/>
<circle cx="382.8" cy="150.8" r="2.6" fill="#faf38b"/>
<circle cx="404.2" cy="144.5" r="2.6" fill="#d4504a"/>
<circle cx="396.3" cy="189.2" r="2.8" fill="#f99a19"/>
<circle cx="390.5" cy="196.1" r="2.6" fill="#f99a19"/>
<circle cx="410.9" cy="186.5" r="2.6" fill="#f17926"/>
<circle cx="418.1" cy="162.2" r="2.5" fill="#faf38b"/>
<circle cx="418.1" cy="170.5" r="2.6" fill="#f99a19"/>
<circle cx="407.5" cy="185.8" r="2.8" fill="#601b71"/>
<circle cx="196.5" cy="225.4" r="2.7" fill="#601b71"/>
<circle cx="242.2" cy="231.6" r="2.7" fill="#a83665"/>
<circle cx="249.5" cy="237.9" r="2.7" fill="#a83665"/>
<circle cx="250.6" cy="242.0" r="2.7" fill="#601b71"/>
<circle cx="214.2" cy="241.0" r="2.7" fill="#d4504a"/>
<circle cx="215.2" cy="249.3" r="2.7" fill="#601b71"/>
<circle cx="218.4" cy="255.5" r="2.7" fill="#d4504a"/>
<circle cx="210.0" cy="255.5" r="2.7" fill="#601b71"/>
<circle cx="205.9" cy="252.4" r="2.7" fill="#f17926"/>
<circle cx="202.8" cy="254.5" r="2.7" fill="#f99a19"/>
<circle cx="198.6" cy="237.9" r="2.7" fill="#f99a19"/>
<circle cx="204.9" cy="244.1" r="2.7" fill="#f9c334"/>
<circle cx="198.6" cy="262.8" r="2.7" fill="#f17926"/>
<circle cx="197.6" cy="264.9" r="2.7" fill="#f99a19"/>
<circle cx="204.9" cy="271.1" r="2.7" fill="#a83665"/>
<circle cx="199.7" cy="274.2" r="2.5" fill="#faf38b"/>
<circle cx="163.3" cy="264.9" r="2.7" fill="#d4504a"/>
<circle cx="166.4" cy="262.4" r="2.7" fill="#f17926"/>
<circle cx="223.6" cy="259.7" r="2.7" fill="#d4504a"/>
<circle cx="221.5" cy="262.8" r="2.7" fill="#f17926"/>
<circle cx="226.7" cy="261.7" r="2.7" fill="#f17926"/>
<circle cx="229.8" cy="264.9" r="2.5" fill="#faf38b"/>
<circle cx="240.2" cy="271.1" r="2.7" fill="#601b71"/>
<circle cx="241.2" cy="266.9" r="2.7" fill="#a83665"/>
<circle cx="243.3" cy="266.5" r="2.7" fill="#601b71"/>
<circle cx="240.2" cy="281.5" r="2.7" fill="#a83665"/>
<circle cx="239.1" cy="285.6" r="2.5" fill="#faf38b"/>
<circle cx="233.9" cy="279.4" r="2.7" fill="#d4504a"/>
<circle cx="228.7" cy="288.7" r="2.7" fill="#f17926"/>
<circle cx="251.6" cy="282.5" r="2.7" fill="#a83665"/>
<circle cx="257.8" cy="284.6" r="2.7" fill="#f17926"/>
<circle cx="263.0" cy="274.2" r="2.7" fill="#f9c334"/>
<circle cx="279.6" cy="244.1" r="2.5" fill="#faf38b"/>
<circle cx="285.9" cy="276.3" r="2.7" fill="#601b71"/>
<circle cx="287.9" cy="287.7" r="2.7" fill="#f99a19"/>
<circle cx="282.8" cy="297.1" r="2.5" fill="#faf38b"/>
<circle cx="290.0" cy="304.3" r="2.7" fill="#a83665"/>
<circle cx="258.9" cy="223.3" r="2.7" fill="#f99a19"/>
<circle cx="200.7" cy="296.0" r="2.7" fill="#d4504a"/>
<circle cx="202.8" cy="298.1" r="2.7" fill="#d4504a"/>
<circle cx="204.9" cy="306.4" r="2.7" fill="#601b71"/>
<circle cx="203.8" cy="307.4" r="2.7" fill="#a83665"/>
<circle cx="193.4" cy="308.5" r="2.7" fill="#f17926"/>
<circle cx="169.5" cy="319.9" r="2.7" fill="#601b71"/>
<circle cx="159.2" cy="318.9" r="2.5" fill="#faf38b"/>
<circle cx="242.2" cy="312.6" r="2.7" fill="#f99a19"/>
<circle cx="251.6" cy="322.0" r="2.5" fill="#faf38b"/>
<circle cx="227.7" cy="323.0" r="2.7" fill="#f9c334"/>
<circle cx="223.6" cy="333.4" r="2.7" fill="#601b71"/>
<circle cx="218.4" cy="336.5" r="2.7" fill="#f99a19"/>
<circle cx="217.3" cy="344.8" r="2.7" fill="#601b71"/>
<circle cx="219.4" cy="343.8" r="2.7" fill="#601b71"/>
<circle cx="166.4" cy="347.9" r="2.7" fill="#f99a19"/>
<circle cx="462.2" cy="101.6" r="3.8" fill="#601b71"/>
<circle cx="465.3" cy="95.2" r="3.7" fill="#f17926"/>
<circle cx="464.7" cy="100.9" r="3.5" fill="#a83665"/>
<circle cx="470.2" cy="102.0" r="4.1" fill="#601b71"/>
<circle cx="473.3" cy="94.8" r="3.7" fill="#601b71"/>
<circle cx="457.8" cy="94.7" r="4.4" fill="#601b71"/>
<circle cx="460.5" cy="96.7" r="3.5" fill="#f17926"/>
<circle cx="468.4" cy="102.1" r="4.1" fill="#822771"/>
<circle cx="471.3" cy="103.5" r="3.1" fill="#601b71"/>
<circle cx="461.6" cy="97.3" r="2.9" fill="#a83665"/>
<circle cx="455.4" cy="98.2" r="4.0" fill="#f17926"/>
<circle cx="457.4" cy="94.1" r="3.3" fill="#822771"/>
<circle cx="462.4" cy="93.0" r="3.7" fill="#f17926"/>
<circle cx="457.6" cy="98.2" r="3.5" fill="#faf38b"/>
<circle cx="467.5" cy="97.6" r="3.5" fill="#d4504a"/>
<circle cx="468.7" cy="104.6" r="2.9" fill="#601b71"/>
<circle cx="464.8" cy="88.9" r="4.2" fill="#d4504a"/>
<circle cx="460.5" cy="103.5" r="3.6" fill="#f17926"/>
<circle cx="466.8" cy="99.3" r="3.2" fill="#601b71"/>
<circle cx="474.1" cy="102.0" r="3.8" fill="#f17926"/>
<circle cx="462.5" cy="104.7" r="3.9" fill="#601b71"/>
<circle cx="470.1" cy="95.6" r="3.8" fill="#f17926"/>
<circle cx="248.2" cy="255.5" r="2.6" fill="#a83665"/>
<circle cx="234.0" cy="257.8" r="2.9" fill="#a83665"/>
<circle cx="236.5" cy="254.8" r="3.3" fill="#a83665"/>
<circle cx="243.7" cy="251.5" r="2.9" fill="#a83665"/>
<circle cx="239.8" cy="250.6" r="2.7" fill="#601b71"/>
<circle cx="242.9" cy="255.6" r="2.7" fill="#d4504a"/>
<circle cx="242.8" cy="251.7" r="2.8" fill="#a83665"/>
<circle cx="238.0" cy="255.0" r="3.0" fill="#a83665"/>
<circle cx="239.7" cy="249.9" r="3.1" fill="#f99a19"/>
<circle cx="241.2" cy="250.0" r="3.3" fill="#f99a19"/>
<circle cx="242.7" cy="250.4" r="2.9" fill="#601b71"/>
<circle cx="237.3" cy="253.9" r="2.7" fill="#a83665"/>
<circle cx="239.6" cy="254.1" r="3.0" fill="#601b71"/>
<circle cx="243.9" cy="253.5" r="2.6" fill="#a83665"/>
<circle cx="240.3" cy="252.7" r="2.7" fill="#a83665"/>
<circle cx="243.4" cy="255.5" r="2.8" fill="#a83665"/>
<circle cx="239.4" cy="253.8" r="2.9" fill="#d4504a"/>
<circle cx="237.9" cy="253.8" r="2.6" fill="#f9c334"/>
<circle cx="239.7" cy="255.6" r="3.2" fill="#a83665"/>
<circle cx="238.7" cy="253.3" r="3.4" fill="#a83665"/>
<circle cx="244.7" cy="256.7" r="2.5" fill="#d4504a"/>
<circle cx="239.7" cy="257.9" r="2.6" fill="#a83665"/>
<circle cx="232.4" cy="252.7" r="2.8" fill="#a83665"/>
<circle cx="234.4" cy="252.4" r="2.8" fill="#a83665"/>
<circle cx="235.9" cy="249.8" r="3.2" fill="#a83665"/>
<circle cx="244.2" cy="248.0" r="3.2" fill="#a83665"/>
<circle cx="243.0" cy="257.0" r="3.2" fill="#601b71"/>
<circle cx="242.7" cy="250.0" r="2.7" fill="#f99a19"/>
<circle cx="245.9" cy="252.6" r="3.3" fill="#a83665"/>
<circle cx="245.3" cy="252.6" r="2.7" fill="#a83665"/>
<circle cx="237.8" cy="254.0" r="2.9" fill="#f99a19"/>
<circle cx="244.1" cy="250.4" r="3.1" fill="#f17926"/>
<circle cx="239.6" cy="266.6" r="2.6" fill="#a83665"/>
<circle cx="241.4" cy="265.8" r="2.7" fill="#601b71"/>
<circle cx="239.4" cy="276.9" r="2.5" fill="#d4504a"/>
<circle cx="240.0" cy="277.1" r="3.0" fill="#d4504a"/>
<circle cx="243.1" cy="287.3" r="2.5" fill="#d4504a"/>
<circle cx="242.8" cy="268.9" r="2.6" fill="#d4504a"/>
</g>
<g clip-path="url(#mapclip)">
<ellipse cx="225.1" cy="280.9" rx="62.9" ry="61.3" fill="none" stroke="#e8222a" stroke-width="2" stroke-dasharray="8,5"/>
<polygon points="252.00,125.00 254.85,133.78 264.08,133.78 256.61,139.20 259.46,147.97 252.00,142.55 244.54,147.97 247.39,139.20 239.92,133.78 249.15,133.78" fill="#0000ff" stroke="#000" stroke-width="1.0" stroke-linejoin="miter"/>
<polygon points="223.60,268.30 226.45,277.08 235.68,277.08 228.21,282.50 231.06,291.27 223.60,285.85 216.14,291.27 218.99,282.50 211.52,277.08 220.75,277.08" fill="#ff0000" stroke="#000" stroke-width="1.0" stroke-linejoin="miter"/>
<polygon points="130.70,282.60 133.55,291.38 142.78,291.38 135.31,296.80 138.16,305.57 130.70,300.15 123.24,305.57 126.09,296.80 118.62,291.38 127.85,291.38" fill="#5b0f76" stroke="#000" stroke-width="1.0" stroke-linejoin="miter"/>
<circle cx="514.5" cy="64.7" r="9.4" fill="#f58116"/>
<polygon points="513.50,54.60 516.35,63.38 525.58,63.38 518.11,68.80 520.96,77.57 513.50,72.15 506.04,77.57 508.89,68.80 501.42,63.38 510.65,63.38" fill="#f07f24" stroke="#000" stroke-width="1.0" stroke-linejoin="miter"/>
<polygon points="512.40,70.80 515.25,79.58 524.48,79.58 517.01,85.00 519.86,93.77 512.40,88.35 504.94,93.77 507.79,85.00 500.32,79.58 509.55,79.58" fill="#2e8b1a" stroke="#000" stroke-width="1.0" stroke-linejoin="miter"/>
</g>
<text x="209.5" y="247" font-size="14.5" text-anchor="start" fill="#262626" font-weight="bold" >C1</text>
<text x="252.2" y="252" font-size="14.5" text-anchor="start" fill="#262626" font-weight="bold" >C2</text>
<text x="0" y="0" font-size="15.5" font-weight="bold" fill="#e8222a" transform="translate(244.5,356.5) rotate(-27)">50 km</text>
<g stroke="#666" stroke-width="1" fill="none">
<line x1="83.9" y1="381.4" x2="83.9" y2="427.7"/>
<line x1="83.9" y1="405.1" x2="163.5" y2="405.1"/>
<line x1="135.7" y1="405.1" x2="135.7" y2="427.7"/>
</g>
<text x="87.5" y="399.5" font-size="13.5" text-anchor="start" fill="#333" font-weight="normal" >50 km</text>
<text x="87.5" y="423.2" font-size="13.5" text-anchor="start" fill="#333" font-weight="normal" >20 mi</text>
<rect x="303.8" y="338.7" width="245.4" height="93.3" fill="#fff" stroke="#333" stroke-width="1"/>
<polygon points="318.90,340.70 321.71,349.34 330.79,349.34 323.44,354.68 326.25,363.31 318.90,357.97 311.55,363.31 314.36,354.68 307.01,349.34 316.09,349.34" fill="#2e8b1a" stroke="#000" stroke-width="1.0" stroke-linejoin="miter"/>
<polygon points="318.70,374.60 321.55,383.38 330.78,383.38 323.31,388.80 326.16,397.57 318.70,392.15 311.24,397.57 314.09,388.80 306.62,383.38 315.85,383.38" fill="#f07f24" stroke="#000" stroke-width="1.0" stroke-linejoin="miter"/>
<polygon points="318.70,407.90 321.55,416.68 330.78,416.68 323.31,422.10 326.16,430.87 318.70,425.45 311.24,430.87 314.09,422.10 306.62,416.68 315.85,416.68" fill="#5b0f76" stroke="#000" stroke-width="1.0" stroke-linejoin="miter"/>
<polygon points="441.90,342.30 444.75,351.08 453.98,351.08 446.51,356.50 449.36,365.27 441.90,359.85 434.44,365.27 437.29,356.50 429.82,351.08 439.05,351.08" fill="#ff0000" stroke="#000" stroke-width="1.0" stroke-linejoin="miter"/>
<polygon points="441.90,371.60 444.75,380.38 453.98,380.38 446.51,385.80 449.36,394.57 441.90,389.15 434.44,394.57 437.29,385.80 429.82,380.38 439.05,380.38" fill="#0000ff" stroke="#000" stroke-width="1.0" stroke-linejoin="miter"/>
<text x="335.8" y="358.3" font-size="16.2" fill="#111" textLength="87.6" lengthAdjust="spacingAndGlyphs">2020 M<tspan font-size="12.4">W</tspan> 6.8</text>
<text x="335.8" y="390.8" font-size="16.2" fill="#111" textLength="87.6" lengthAdjust="spacingAndGlyphs">2023 M<tspan font-size="12.4">W</tspan> 4.5</text>
<text x="335.8" y="424.1" font-size="16.2" fill="#111" textLength="87.6" lengthAdjust="spacingAndGlyphs">2023 M<tspan font-size="12.4">W</tspan> 4.1</text>
<text x="458.5" y="360.7" font-size="16.2" fill="#111" textLength="87.4" lengthAdjust="spacingAndGlyphs">2023 M<tspan font-size="12.4">W</tspan> 7.8</text>
<text x="458.5" y="390.1" font-size="16.2" fill="#111" textLength="87.4" lengthAdjust="spacingAndGlyphs">2023 M<tspan font-size="12.4">W</tspan> 7.6</text>
<rect x="77.5" y="1.5" width="480.0" height="434.8" fill="none" stroke="#2a2a2a" stroke-width="1.6"/>
<rect x="76.7" y="0" width="481.6" height="2.4" fill="#333"/>
<rect x="76.7" y="435.7" width="481.6" height="2.0" fill="#2a2a2a"/>
<g stroke="#2a2a2a" stroke-width="1.2">
<line x1="77.5" y1="63.4" x2="83.0" y2="63.4"/>
<line x1="557.5" y1="63.4" x2="552.0" y2="63.4"/>
<line x1="77.5" y1="152.6" x2="83.0" y2="152.6"/>
<line x1="557.5" y1="152.6" x2="552.0" y2="152.6"/>
<line x1="77.5" y1="242.3" x2="83.0" y2="242.3"/>
<line x1="557.5" y1="242.3" x2="552.0" y2="242.3"/>
<line x1="77.5" y1="331.6" x2="83.0" y2="331.6"/>
<line x1="557.5" y1="331.6" x2="552.0" y2="331.6"/>
<line x1="77.5" y1="420.0" x2="83.0" y2="420.0"/>
<line x1="557.5" y1="420.0" x2="552.0" y2="420.0"/>
<line x1="218.5" y1="436.3" x2="218.5" y2="430.8"/>
<line x1="218.5" y1="1.5" x2="218.5" y2="7.0"/>
<line x1="359.5" y1="436.3" x2="359.5" y2="430.8"/>
<line x1="359.5" y1="1.5" x2="359.5" y2="7.0"/>
<line x1="500.6" y1="436.3" x2="500.6" y2="430.8"/>
<line x1="500.6" y1="1.5" x2="500.6" y2="7.0"/>
</g>
<text x="69.3" y="70.1" font-size="16.6" text-anchor="end" fill="#262626" font-weight="normal" >38°30'N</text>
<text x="69.3" y="159.29999999999998" font-size="16.6" text-anchor="end" fill="#262626" font-weight="normal" >38°N</text>
<text x="69.3" y="249.0" font-size="16.6" text-anchor="end" fill="#262626" font-weight="normal" >37°30'N</text>
<text x="69.3" y="338.3" font-size="16.6" text-anchor="end" fill="#262626" font-weight="normal" >37°N</text>
<text x="69.3" y="426.7" font-size="16.6" text-anchor="end" fill="#262626" font-weight="normal" >36°30'N</text>
<text x="76.9" y="461.9" font-size="16.3" text-anchor="middle" fill="#262626" font-weight="normal" >36°E</text>
<text x="217.9" y="461.9" font-size="16.3" text-anchor="middle" fill="#262626" font-weight="normal" >37°E</text>
<text x="358.9" y="461.9" font-size="16.3" text-anchor="middle" fill="#262626" font-weight="normal" >38°E</text>
<text x="500.0" y="461.9" font-size="16.3" text-anchor="middle" fill="#262626" font-weight="normal" >39°E</text>
<text x="328.5" y="480.3" font-size="16.3" text-anchor="middle" fill="#262626" font-weight="normal" >Longitude</text>
<text x="0" y="0" font-size="16.3" fill="#262626" text-anchor="middle" transform="translate(15.8,195.8) rotate(-90)">Latitude</text>
<text x="17.8" y="18.3" font-size="17.5" text-anchor="start" fill="#262626" font-weight="normal" >(a)</text>
<rect x="568.7" y="0" width="28.6" height="436.3" fill="url(#cbar)"/>
<line x1="597.3" y1="0" x2="597.3" y2="436.3" stroke="#ccc" stroke-width="0.6"/>
<text x="604.6" y="20.9" font-size="15.2" text-anchor="start" fill="#262626" font-weight="normal" >05-02</text>
<text x="604.6" y="105.10000000000001" font-size="15.2" text-anchor="start" fill="#262626" font-weight="normal" >29-01</text>
<text x="604.6" y="189.3" font-size="15.2" text-anchor="start" fill="#262626" font-weight="normal" >22-01</text>
<text x="604.6" y="273.5" font-size="15.2" text-anchor="start" fill="#262626" font-weight="normal" >15-01</text>
<text x="604.6" y="357.7" font-size="15.2" text-anchor="start" fill="#262626" font-weight="normal" >08-01</text>
<text x="604.6" y="441.9" font-size="15.2" text-anchor="start" fill="#262626" font-weight="normal" >01-01</text>
<text x="0" y="0" font-size="18.2" fill="#262626" text-anchor="middle" transform="translate(666.8,236) rotate(-90)">Time [dd-mm]</text>
<g fill="#dd868b" stroke="#4a4a4a" stroke-width="0.9">
<rect x="77.70" y="570.18" width="14.36" height="7.12"/>
<rect x="92.06" y="548.82" width="14.36" height="28.48"/>
<rect x="106.42" y="555.94" width="14.36" height="21.36"/>
<rect x="120.78" y="568.40" width="14.36" height="8.90"/>
<rect x="135.14" y="495.42" width="14.36" height="81.88"/>
<rect x="149.50" y="527.46" width="14.36" height="49.84"/>
<rect x="163.86" y="543.48" width="14.36" height="33.82"/>
<rect x="178.22" y="564.84" width="14.36" height="12.46"/>
<rect x="192.58" y="564.84" width="14.36" height="12.46"/>
<rect x="206.94" y="555.94" width="14.36" height="21.36"/>
<rect x="221.30" y="563.06" width="14.36" height="14.24"/>
<rect x="235.66" y="566.62" width="14.36" height="10.68"/>
<rect x="250.02" y="564.84" width="14.36" height="12.46"/>
<rect x="264.38" y="568.40" width="14.36" height="8.90"/>
<rect x="278.74" y="570.18" width="14.36" height="7.12"/>
<rect x="293.10" y="570.18" width="14.36" height="7.12"/>
<rect x="307.46" y="559.50" width="14.36" height="17.80"/>
<rect x="321.82" y="571.96" width="14.36" height="5.34"/>
<rect x="336.18" y="566.62" width="14.36" height="10.68"/>
<rect x="350.54" y="566.62" width="14.36" height="10.68"/>
<rect x="364.90" y="568.40" width="14.36" height="8.90"/>
<rect x="379.26" y="564.84" width="14.36" height="12.46"/>
<rect x="393.62" y="566.62" width="14.36" height="10.68"/>
<rect x="407.98" y="568.40" width="14.36" height="8.90"/>
<rect x="422.34" y="573.74" width="14.36" height="3.56"/>
<rect x="436.70" y="564.84" width="14.36" height="12.46"/>
<rect x="451.06" y="534.58" width="14.36" height="42.72"/>
<rect x="465.42" y="573.74" width="14.36" height="3.56"/>
<rect x="479.78" y="570.18" width="14.36" height="7.12"/>
<rect x="494.14" y="564.84" width="14.36" height="12.46"/>
<rect x="508.50" y="564.84" width="14.36" height="12.46"/>
<rect x="522.86" y="571.96" width="14.36" height="5.34"/>
<rect x="537.22" y="573.74" width="14.36" height="3.56"/>
<rect x="551.58" y="575.52" width="14.36" height="1.78"/>
<rect x="565.94" y="550.60" width="14.36" height="26.70"/>
</g>
<rect x="77.7" y="488.3" width="517.8" height="89.0" fill="none" stroke="#555" stroke-width="0.9"/>
<g stroke="#555" stroke-width="0.9">
<line x1="77.7" y1="559.5" x2="82.7" y2="559.5"/>
<line x1="595.5" y1="559.5" x2="590.5" y2="559.5"/>
<line x1="77.7" y1="541.7" x2="82.7" y2="541.7"/>
<line x1="595.5" y1="541.7" x2="590.5" y2="541.7"/>
<line x1="77.7" y1="523.9" x2="82.7" y2="523.9"/>
<line x1="595.5" y1="523.9" x2="590.5" y2="523.9"/>
<line x1="77.7" y1="506.1" x2="82.7" y2="506.1"/>
<line x1="595.5" y1="506.1" x2="590.5" y2="506.1"/>
<line x1="77.7" y1="488.3" x2="82.7" y2="488.3"/>
<line x1="595.5" y1="488.3" x2="590.5" y2="488.3"/>
<line x1="121.3" y1="488.3" x2="121.3" y2="493.3"/>
<line x1="193.1" y1="488.3" x2="193.1" y2="493.3"/>
<line x1="264.9" y1="488.3" x2="264.9" y2="493.3"/>
<line x1="336.7" y1="488.3" x2="336.7" y2="493.3"/>
<line x1="408.5" y1="488.3" x2="408.5" y2="493.3"/>
<line x1="480.3" y1="488.3" x2="480.3" y2="493.3"/>
<line x1="552.1" y1="488.3" x2="552.1" y2="493.3"/>
</g>
<text x="75.5" y="566.9" font-size="16" text-anchor="end" fill="#262626" font-weight="normal" >10</text>
<text x="75.5" y="531.3" font-size="16" text-anchor="end" fill="#262626" font-weight="normal" >30</text>
<text x="75.5" y="495.69999999999993" font-size="16" text-anchor="end" fill="#262626" font-weight="normal" >50</text>
<text font-size="16" fill="#262626" text-anchor="middle" transform="translate(27.6,528) rotate(-90)" textLength="93" lengthAdjust="spacingAndGlyphs">Seismic rates</text>
<text font-size="16" fill="#262626" text-anchor="middle" transform="translate(45.5,534.5) rotate(-90)">per day</text>
<text x="19" y="466.5" font-size="17.5" text-anchor="start" fill="#262626" font-weight="normal" >(b)</text>
<text x="134.6" y="486.2" font-size="14.5" text-anchor="start" fill="#111" font-weight="bold" >C2</text>
<g stroke="#d6e8f4" stroke-width="0.9">
<line x1="77.9" y1="744.8" x2="595.7" y2="744.8"/>
<line x1="77.9" y1="705.6" x2="595.7" y2="705.6"/>
<line x1="77.9" y1="666.4" x2="595.7" y2="666.4"/>
<line x1="77.9" y1="627.2" x2="595.7" y2="627.2"/>
<line x1="77.9" y1="588.0" x2="595.7" y2="588.0"/>
</g>
<g stroke="#dde3e8" stroke-width="0.9">
<line x1="121.3" y1="577.6" x2="121.3" y2="784.0"/>
<line x1="193.1" y1="577.6" x2="193.1" y2="784.0"/>
<line x1="264.9" y1="577.6" x2="264.9" y2="784.0"/>
<line x1="336.7" y1="577.6" x2="336.7" y2="784.0"/>
<line x1="408.5" y1="577.6" x2="408.5" y2="784.0"/>
<line x1="480.3" y1="577.6" x2="480.3" y2="784.0"/>
<line x1="552.1" y1="577.6" x2="552.1" y2="784.0"/>
</g>
<g clip-path="url(#cclip)">
<g fill="none" stroke="#878787" stroke-width="0.85">
<circle cx="96.8" cy="697.9" r="3.7"/>
<circle cx="95.6" cy="728.3" r="3.7"/>
<circle cx="92.9" cy="719.9" r="3.7"/>
<circle cx="98.5" cy="731.6" r="3.7"/>
<circle cx="102.6" cy="707.9" r="3.7"/>
<circle cx="98.1" cy="706.8" r="3.7"/>
<circle cx="95.9" cy="695.9" r="3.7"/>
<circle cx="104.8" cy="727.5" r="3.7"/>
<circle cx="97.7" cy="709.5" r="3.7"/>
<circle cx="106.3" cy="739.7" r="3.7"/>
<circle cx="110.6" cy="711.8" r="3.7"/>
<circle cx="109.7" cy="701.2" r="3.7"/>
<circle cx="118.7" cy="731.8" r="3.7"/>
<circle cx="109.3" cy="697.3" r="3.7"/>
<circle cx="112.8" cy="713.9" r="3.7"/>
<circle cx="121.1" cy="733.9" r="3.7"/>
<circle cx="125.4" cy="735.7" r="3.7"/>
<circle cx="121.9" cy="746.2" r="3.7"/>
<circle cx="131.4" cy="729.6" r="3.7"/>
<circle cx="132.2" cy="710.5" r="3.7"/>
<circle cx="133.7" cy="729.7" r="3.7"/>
<circle cx="126.8" cy="715.0" r="3.7"/>
<circle cx="129.8" cy="751.7" r="3.7"/>
<circle cx="129.1" cy="727.4" r="3.7"/>
<circle cx="135.0" cy="726.5" r="3.7"/>
<circle cx="131.2" cy="741.4" r="3.7"/>
<circle cx="127.1" cy="706.8" r="3.7"/>
<circle cx="122.0" cy="722.6" r="3.7"/>
<circle cx="147.8" cy="709.0" r="3.7"/>
<circle cx="148.7" cy="743.9" r="3.7"/>
<circle cx="145.5" cy="717.7" r="3.7"/>
<circle cx="144.4" cy="724.7" r="3.7"/>
<circle cx="149.2" cy="732.8" r="3.7"/>
<circle cx="142.9" cy="719.3" r="3.7"/>
<circle cx="147.4" cy="735.4" r="3.7"/>
<circle cx="136.3" cy="740.3" r="3.7"/>
<circle cx="142.1" cy="662.5" r="3.7"/>
<circle cx="136.1" cy="719.8" r="3.7"/>
<circle cx="146.5" cy="731.4" r="3.7"/>
<circle cx="161.1" cy="711.9" r="3.7"/>
<circle cx="162.8" cy="730.1" r="3.7"/>
<circle cx="163.8" cy="716.5" r="3.7"/>
<circle cx="159.9" cy="727.9" r="3.7"/>
<circle cx="150.9" cy="714.8" r="3.7"/>
<circle cx="151.3" cy="736.3" r="3.7"/>
<circle cx="159.3" cy="712.6" r="3.7"/>
<circle cx="162.6" cy="721.5" r="3.7"/>
<circle cx="151.2" cy="748.0" r="3.7"/>
<circle cx="159.3" cy="723.5" r="3.7"/>
<circle cx="150.5" cy="719.3" r="3.7"/>
<circle cx="156.9" cy="720.0" r="3.7"/>
<circle cx="151.6" cy="718.5" r="3.7"/>
<circle cx="163.7" cy="713.3" r="3.7"/>
<circle cx="150.9" cy="688.4" r="3.7"/>
<circle cx="160.5" cy="708.6" r="3.7"/>
<circle cx="156.2" cy="738.5" r="3.7"/>
<circle cx="149.7" cy="724.1" r="3.7"/>
<circle cx="161.6" cy="715.7" r="3.7"/>
<circle cx="155.3" cy="707.6" r="3.7"/>
<circle cx="151.9" cy="725.3" r="3.7"/>
<circle cx="161.0" cy="722.8" r="3.7"/>
<circle cx="161.9" cy="733.1" r="3.7"/>
<circle cx="156.7" cy="733.7" r="3.7"/>
<circle cx="161.1" cy="724.3" r="3.7"/>
<circle cx="160.7" cy="689.5" r="3.7"/>
<circle cx="155.3" cy="697.9" r="3.7"/>
<circle cx="160.5" cy="741.4" r="3.7"/>
<circle cx="155.3" cy="723.6" r="3.7"/>
<circle cx="156.2" cy="691.8" r="3.7"/>
<circle cx="174.7" cy="718.2" r="3.7"/>
<circle cx="176.7" cy="722.7" r="3.7"/>
<circle cx="177.4" cy="727.4" r="3.7"/>
<circle cx="176.9" cy="738.1" r="3.7"/>
<circle cx="167.4" cy="715.3" r="3.7"/>
<circle cx="191.9" cy="740.8" r="3.7"/>
<circle cx="181.6" cy="698.6" r="3.7"/>
<circle cx="187.2" cy="701.7" r="3.7"/>
<circle cx="182.1" cy="730.3" r="3.7"/>
<circle cx="187.3" cy="740.4" r="3.7"/>
<circle cx="180.9" cy="722.3" r="3.7"/>
<circle cx="190.8" cy="654.9" r="3.7"/>
<circle cx="182.1" cy="741.4" r="3.7"/>
<circle cx="186.0" cy="713.1" r="3.7"/>
<circle cx="179.5" cy="731.1" r="3.7"/>
<circle cx="183.6" cy="739.6" r="3.7"/>
<circle cx="181.2" cy="736.4" r="3.7"/>
<circle cx="179.3" cy="701.9" r="3.7"/>
<circle cx="189.8" cy="741.0" r="3.7"/>
<circle cx="184.3" cy="740.7" r="3.7"/>
<circle cx="189.8" cy="737.5" r="3.7"/>
<circle cx="182.9" cy="706.5" r="3.7"/>
<circle cx="188.9" cy="708.6" r="3.7"/>
<circle cx="179.6" cy="730.2" r="3.7"/>
<circle cx="179.3" cy="705.8" r="3.7"/>
<circle cx="188.1" cy="712.9" r="3.7"/>
<circle cx="189.4" cy="713.4" r="3.7"/>
<circle cx="179.4" cy="717.8" r="3.7"/>
<circle cx="197.8" cy="729.6" r="3.7"/>
<circle cx="198.3" cy="730.2" r="3.7"/>
<circle cx="204.0" cy="716.2" r="3.7"/>
<circle cx="204.6" cy="731.3" r="3.7"/>
<circle cx="205.2" cy="726.2" r="3.7"/>
<circle cx="192.9" cy="741.4" r="3.7"/>
<circle cx="206.5" cy="724.5" r="3.7"/>
<circle cx="204.1" cy="705.2" r="3.7"/>
<circle cx="193.8" cy="715.2" r="3.7"/>
<circle cx="217.6" cy="708.0" r="3.7"/>
<circle cx="209.9" cy="723.4" r="3.7"/>
<circle cx="211.1" cy="717.4" r="3.7"/>
<circle cx="208.6" cy="723.6" r="3.7"/>
<circle cx="218.1" cy="720.3" r="3.7"/>
<circle cx="215.3" cy="717.7" r="3.7"/>
<circle cx="207.5" cy="715.2" r="3.7"/>
<circle cx="210.3" cy="716.5" r="3.7"/>
<circle cx="215.5" cy="721.0" r="3.7"/>
<circle cx="209.4" cy="713.1" r="3.7"/>
<circle cx="211.4" cy="749.1" r="3.7"/>
<circle cx="210.7" cy="730.9" r="3.7"/>
<circle cx="225.9" cy="724.4" r="3.7"/>
<circle cx="230.4" cy="692.3" r="3.7"/>
<circle cx="225.1" cy="731.0" r="3.7"/>
<circle cx="221.3" cy="724.5" r="3.7"/>
<circle cx="233.5" cy="719.9" r="3.7"/>
<circle cx="231.6" cy="728.2" r="3.7"/>
<circle cx="228.2" cy="759.4" r="3.7"/>
<circle cx="233.6" cy="715.3" r="3.7"/>
<circle cx="232.6" cy="751.7" r="3.7"/>
<circle cx="233.2" cy="705.9" r="3.7"/>
<circle cx="229.1" cy="731.3" r="3.7"/>
<circle cx="225.8" cy="724.0" r="3.7"/>
<circle cx="222.4" cy="728.4" r="3.7"/>
<circle cx="226.5" cy="706.7" r="3.7"/>
<circle cx="222.8" cy="735.8" r="3.7"/>
<circle cx="233.2" cy="712.3" r="3.7"/>
<circle cx="221.5" cy="739.6" r="3.7"/>
<circle cx="229.4" cy="706.1" r="3.7"/>
<circle cx="221.5" cy="695.7" r="3.7"/>
<circle cx="230.1" cy="724.0" r="3.7"/>
<circle cx="226.7" cy="734.9" r="3.7"/>
<circle cx="226.9" cy="725.7" r="3.7"/>
<circle cx="237.0" cy="721.3" r="3.7"/>
<circle cx="241.5" cy="713.9" r="3.7"/>
<circle cx="248.9" cy="738.8" r="3.7"/>
<circle cx="246.7" cy="714.6" r="3.7"/>
<circle cx="241.2" cy="692.0" r="3.7"/>
<circle cx="245.7" cy="709.1" r="3.7"/>
<circle cx="247.0" cy="698.0" r="3.7"/>
<circle cx="240.6" cy="740.0" r="3.7"/>
<circle cx="237.2" cy="735.5" r="3.7"/>
<circle cx="247.5" cy="710.1" r="3.7"/>
<circle cx="237.9" cy="719.2" r="3.7"/>
<circle cx="240.7" cy="755.0" r="3.7"/>
<circle cx="237.7" cy="732.7" r="3.7"/>
<circle cx="245.9" cy="765.7" r="3.7"/>
<circle cx="238.5" cy="702.7" r="3.7"/>
<circle cx="236.9" cy="729.8" r="3.7"/>
<circle cx="243.9" cy="727.0" r="3.7"/>
<circle cx="261.9" cy="715.1" r="3.7"/>
<circle cx="250.5" cy="705.2" r="3.7"/>
<circle cx="264.2" cy="702.1" r="3.7"/>
<circle cx="259.7" cy="730.8" r="3.7"/>
<circle cx="255.5" cy="714.6" r="3.7"/>
<circle cx="256.7" cy="737.4" r="3.7"/>
<circle cx="255.6" cy="731.0" r="3.7"/>
<circle cx="253.8" cy="726.5" r="3.7"/>
<circle cx="254.8" cy="725.2" r="3.7"/>
<circle cx="252.1" cy="725.9" r="3.7"/>
<circle cx="271.9" cy="735.8" r="3.7"/>
<circle cx="277.4" cy="724.8" r="3.7"/>
<circle cx="277.3" cy="718.1" r="3.7"/>
<circle cx="273.0" cy="722.5" r="3.7"/>
<circle cx="265.4" cy="735.4" r="3.7"/>
<circle cx="270.8" cy="737.7" r="3.7"/>
<circle cx="274.4" cy="722.9" r="3.7"/>
<circle cx="267.8" cy="727.8" r="3.7"/>
<circle cx="265.4" cy="708.4" r="3.7"/>
<circle cx="278.3" cy="737.9" r="3.7"/>
<circle cx="275.9" cy="748.7" r="3.7"/>
<circle cx="275.1" cy="752.3" r="3.7"/>
<circle cx="275.8" cy="735.9" r="3.7"/>
<circle cx="272.1" cy="722.1" r="3.7"/>
<circle cx="268.7" cy="722.8" r="3.7"/>
<circle cx="265.3" cy="700.7" r="3.7"/>
<circle cx="291.6" cy="725.2" r="3.7"/>
<circle cx="283.8" cy="736.1" r="3.7"/>
<circle cx="281.6" cy="725.4" r="3.7"/>
<circle cx="283.2" cy="737.3" r="3.7"/>
<circle cx="283.8" cy="700.5" r="3.7"/>
<circle cx="283.9" cy="714.3" r="3.7"/>
<circle cx="283.6" cy="728.0" r="3.7"/>
<circle cx="283.2" cy="723.7" r="3.7"/>
<circle cx="283.3" cy="749.3" r="3.7"/>
<circle cx="287.2" cy="725.3" r="3.7"/>
<circle cx="283.8" cy="737.7" r="3.7"/>
<circle cx="285.1" cy="705.8" r="3.7"/>
<circle cx="284.2" cy="727.3" r="3.7"/>
<circle cx="283.2" cy="740.4" r="3.7"/>
<circle cx="282.3" cy="730.4" r="3.7"/>
<circle cx="292.9" cy="667.9" r="3.7"/>
<circle cx="284.3" cy="711.0" r="3.7"/>
<circle cx="283.5" cy="743.3" r="3.7"/>
<circle cx="286.2" cy="738.2" r="3.7"/>
<circle cx="288.6" cy="763.7" r="3.7"/>
<circle cx="281.1" cy="731.7" r="3.7"/>
<circle cx="284.4" cy="723.1" r="3.7"/>
<circle cx="282.1" cy="737.6" r="3.7"/>
<circle cx="283.1" cy="711.7" r="3.7"/>
<circle cx="283.3" cy="726.3" r="3.7"/>
<circle cx="283.4" cy="751.5" r="3.7"/>
<circle cx="283.1" cy="731.7" r="3.7"/>
<circle cx="283.4" cy="762.2" r="3.7"/>
<circle cx="283.5" cy="735.5" r="3.7"/>
<circle cx="283.3" cy="746.6" r="3.7"/>
<circle cx="283.2" cy="729.2" r="3.7"/>
<circle cx="283.5" cy="745.1" r="3.7"/>
<circle cx="284.6" cy="747.1" r="3.7"/>
<circle cx="279.3" cy="719.3" r="3.7"/>
<circle cx="292.9" cy="716.8" r="3.7"/>
<circle cx="283.8" cy="731.6" r="3.7"/>
<circle cx="284.9" cy="738.9" r="3.7"/>
<circle cx="283.9" cy="705.3" r="3.7"/>
<circle cx="283.1" cy="734.1" r="3.7"/>
<circle cx="284.1" cy="719.1" r="3.7"/>
<circle cx="287.5" cy="694.6" r="3.7"/>
<circle cx="283.8" cy="728.1" r="3.7"/>
<circle cx="287.2" cy="714.3" r="3.7"/>
<circle cx="284.2" cy="737.9" r="3.7"/>
<circle cx="283.4" cy="724.9" r="3.7"/>
<circle cx="283.2" cy="722.5" r="3.7"/>
<circle cx="285.6" cy="716.4" r="3.7"/>
<circle cx="281.7" cy="731.3" r="3.7"/>
<circle cx="283.3" cy="734.1" r="3.7"/>
<circle cx="283.2" cy="763.3" r="3.7"/>
<circle cx="284.3" cy="739.9" r="3.7"/>
<circle cx="283.4" cy="731.0" r="3.7"/>
<circle cx="284.4" cy="740.9" r="3.7"/>
<circle cx="283.4" cy="713.6" r="3.7"/>
<circle cx="283.9" cy="728.0" r="3.7"/>
<circle cx="283.7" cy="680.5" r="3.7"/>
<circle cx="283.5" cy="736.1" r="3.7"/>
<circle cx="283.2" cy="758.1" r="3.7"/>
<circle cx="283.3" cy="707.7" r="3.7"/>
<circle cx="283.5" cy="742.6" r="3.7"/>
<circle cx="283.1" cy="682.3" r="3.7"/>
<circle cx="283.9" cy="776.2" r="3.7"/>
<circle cx="283.6" cy="739.3" r="3.7"/>
<circle cx="284.7" cy="743.0" r="3.7"/>
<circle cx="283.8" cy="724.2" r="3.7"/>
<circle cx="283.6" cy="723.7" r="3.7"/>
<circle cx="283.5" cy="719.4" r="3.7"/>
<circle cx="283.4" cy="744.3" r="3.7"/>
<circle cx="283.5" cy="729.2" r="3.7"/>
<circle cx="284.3" cy="704.3" r="3.7"/>
<circle cx="283.9" cy="727.1" r="3.7"/>
<circle cx="283.9" cy="743.3" r="3.7"/>
<circle cx="283.8" cy="731.4" r="3.7"/>
<circle cx="283.1" cy="708.9" r="3.7"/>
<circle cx="284.7" cy="761.2" r="3.7"/>
<circle cx="284.4" cy="743.8" r="3.7"/>
<circle cx="283.8" cy="724.4" r="3.7"/>
<circle cx="291.4" cy="722.9" r="3.7"/>
<circle cx="284.3" cy="739.3" r="3.7"/>
<circle cx="283.8" cy="729.4" r="3.7"/>
<circle cx="283.6" cy="712.7" r="3.7"/>
<circle cx="283.1" cy="757.9" r="3.7"/>
<circle cx="283.1" cy="762.9" r="3.7"/>
<circle cx="283.7" cy="753.6" r="3.7"/>
<circle cx="284.5" cy="742.2" r="3.7"/>
<circle cx="281.0" cy="748.6" r="3.7"/>
<circle cx="283.8" cy="739.9" r="3.7"/>
<circle cx="283.7" cy="736.3" r="3.7"/>
<circle cx="283.5" cy="715.6" r="3.7"/>
<circle cx="283.4" cy="730.4" r="3.7"/>
<circle cx="284.5" cy="725.0" r="3.7"/>
<circle cx="284.2" cy="758.8" r="3.7"/>
<circle cx="284.6" cy="735.0" r="3.7"/>
<circle cx="283.1" cy="707.1" r="3.7"/>
<circle cx="283.1" cy="765.8" r="3.7"/>
<circle cx="284.2" cy="721.1" r="3.7"/>
<circle cx="290.2" cy="716.6" r="3.7"/>
<circle cx="283.6" cy="732.5" r="3.7"/>
<circle cx="292.7" cy="724.7" r="3.7"/>
<circle cx="284.1" cy="722.2" r="3.7"/>
<circle cx="292.9" cy="704.3" r="3.7"/>
<circle cx="283.5" cy="739.7" r="3.7"/>
<circle cx="284.4" cy="735.5" r="3.7"/>
<circle cx="283.2" cy="743.7" r="3.7"/>
<circle cx="282.8" cy="717.7" r="3.7"/>
<circle cx="283.3" cy="780.5" r="3.7"/>
<circle cx="284.5" cy="742.2" r="3.7"/>
<circle cx="284.6" cy="709.4" r="3.7"/>
<circle cx="283.6" cy="679.3" r="3.7"/>
<circle cx="283.5" cy="743.1" r="3.7"/>
<circle cx="283.5" cy="724.0" r="3.7"/>
<circle cx="283.6" cy="742.6" r="3.7"/>
<circle cx="286.0" cy="727.7" r="3.7"/>
<circle cx="307.4" cy="749.3" r="3.7"/>
<circle cx="295.6" cy="683.0" r="3.7"/>
<circle cx="294.8" cy="710.0" r="3.7"/>
<circle cx="297.6" cy="716.2" r="3.7"/>
<circle cx="293.3" cy="670.4" r="3.7"/>
<circle cx="304.7" cy="685.7" r="3.7"/>
<circle cx="303.7" cy="744.5" r="3.7"/>
<circle cx="304.1" cy="706.6" r="3.7"/>
<circle cx="294.5" cy="708.1" r="3.7"/>
<circle cx="296.7" cy="727.3" r="3.7"/>
<circle cx="293.4" cy="732.2" r="3.7"/>
<circle cx="298.4" cy="727.6" r="3.7"/>
<circle cx="304.7" cy="736.8" r="3.7"/>
<circle cx="297.1" cy="706.5" r="3.7"/>
<circle cx="297.7" cy="711.3" r="3.7"/>
<circle cx="296.1" cy="715.0" r="3.7"/>
<circle cx="300.9" cy="726.6" r="3.7"/>
<circle cx="295.2" cy="731.1" r="3.7"/>
<circle cx="299.3" cy="704.9" r="3.7"/>
<circle cx="297.7" cy="721.6" r="3.7"/>
<circle cx="306.8" cy="713.9" r="3.7"/>
<circle cx="303.9" cy="692.8" r="3.7"/>
<circle cx="307.3" cy="757.5" r="3.7"/>
<circle cx="299.0" cy="706.2" r="3.7"/>
<circle cx="295.7" cy="725.9" r="3.7"/>
<circle cx="297.7" cy="700.2" r="3.7"/>
<circle cx="298.2" cy="714.1" r="3.7"/>
<circle cx="298.5" cy="723.2" r="3.7"/>
<circle cx="296.1" cy="746.1" r="3.7"/>
<circle cx="302.1" cy="743.6" r="3.7"/>
<circle cx="301.3" cy="701.0" r="3.7"/>
<circle cx="299.6" cy="703.8" r="3.7"/>
<circle cx="299.1" cy="730.8" r="3.7"/>
<circle cx="317.7" cy="722.8" r="3.7"/>
<circle cx="319.1" cy="740.5" r="3.7"/>
<circle cx="310.3" cy="717.3" r="3.7"/>
<circle cx="316.7" cy="705.5" r="3.7"/>
<circle cx="314.5" cy="714.1" r="3.7"/>
<circle cx="318.9" cy="706.8" r="3.7"/>
<circle cx="320.5" cy="743.0" r="3.7"/>
<circle cx="309.6" cy="691.1" r="3.7"/>
<circle cx="319.9" cy="717.4" r="3.7"/>
<circle cx="309.1" cy="716.4" r="3.7"/>
<circle cx="316.3" cy="709.0" r="3.7"/>
<circle cx="308.5" cy="712.4" r="3.7"/>
<circle cx="320.0" cy="723.4" r="3.7"/>
<circle cx="310.3" cy="694.5" r="3.7"/>
<circle cx="312.0" cy="736.5" r="3.7"/>
<circle cx="311.5" cy="741.1" r="3.7"/>
<circle cx="309.3" cy="736.6" r="3.7"/>
<circle cx="327.0" cy="723.4" r="3.7"/>
<circle cx="327.7" cy="709.7" r="3.7"/>
<circle cx="333.6" cy="705.7" r="3.7"/>
<circle cx="328.4" cy="758.5" r="3.7"/>
<circle cx="331.9" cy="724.1" r="3.7"/>
<circle cx="330.1" cy="729.3" r="3.7"/>
<circle cx="334.1" cy="692.8" r="3.7"/>
<circle cx="328.4" cy="709.0" r="3.7"/>
<circle cx="330.5" cy="728.6" r="3.7"/>
<circle cx="322.7" cy="733.3" r="3.7"/>
<circle cx="335.5" cy="716.7" r="3.7"/>
<circle cx="331.8" cy="727.9" r="3.7"/>
<circle cx="323.7" cy="732.6" r="3.7"/>
<circle cx="325.4" cy="734.7" r="3.7"/>
<circle cx="334.0" cy="716.0" r="3.7"/>
<circle cx="329.7" cy="696.6" r="3.7"/>
<circle cx="327.0" cy="703.9" r="3.7"/>
<circle cx="332.2" cy="729.3" r="3.7"/>
<circle cx="335.5" cy="688.0" r="3.7"/>
<circle cx="328.6" cy="733.5" r="3.7"/>
<circle cx="331.5" cy="709.8" r="3.7"/>
<circle cx="335.8" cy="676.0" r="3.7"/>
<circle cx="333.7" cy="729.6" r="3.7"/>
<circle cx="331.9" cy="717.0" r="3.7"/>
<circle cx="327.6" cy="722.7" r="3.7"/>
<circle cx="336.4" cy="699.6" r="3.7"/>
<circle cx="336.5" cy="750.6" r="3.7"/>
<circle cx="343.9" cy="729.8" r="3.7"/>
<circle cx="340.5" cy="724.1" r="3.7"/>
<circle cx="338.0" cy="729.8" r="3.7"/>
<circle cx="343.5" cy="725.9" r="3.7"/>
<circle cx="347.3" cy="722.3" r="3.7"/>
<circle cx="339.3" cy="707.1" r="3.7"/>
<circle cx="344.2" cy="751.0" r="3.7"/>
<circle cx="348.4" cy="715.2" r="3.7"/>
<circle cx="350.1" cy="737.8" r="3.7"/>
<circle cx="348.6" cy="725.0" r="3.7"/>
<circle cx="342.1" cy="713.9" r="3.7"/>
<circle cx="346.7" cy="722.0" r="3.7"/>
<circle cx="338.4" cy="726.2" r="3.7"/>
<circle cx="340.5" cy="723.3" r="3.7"/>
<circle cx="345.4" cy="719.9" r="3.7"/>
<circle cx="337.3" cy="726.4" r="3.7"/>
<circle cx="337.8" cy="710.9" r="3.7"/>
<circle cx="345.6" cy="729.2" r="3.7"/>
<circle cx="349.8" cy="738.8" r="3.7"/>
<circle cx="341.8" cy="730.0" r="3.7"/>
<circle cx="346.8" cy="723.4" r="3.7"/>
<circle cx="343.0" cy="708.2" r="3.7"/>
<circle cx="342.4" cy="727.2" r="3.7"/>
<circle cx="337.1" cy="721.2" r="3.7"/>
<circle cx="355.8" cy="729.1" r="3.7"/>
<circle cx="355.1" cy="703.0" r="3.7"/>
<circle cx="358.0" cy="722.5" r="3.7"/>
<circle cx="354.2" cy="727.6" r="3.7"/>
<circle cx="362.0" cy="749.3" r="3.7"/>
<circle cx="354.6" cy="709.1" r="3.7"/>
<circle cx="351.8" cy="694.3" r="3.7"/>
<circle cx="355.1" cy="725.4" r="3.7"/>
<circle cx="361.9" cy="725.8" r="3.7"/>
<circle cx="351.2" cy="726.6" r="3.7"/>
<circle cx="358.5" cy="645.5" r="3.7"/>
<circle cx="361.3" cy="732.1" r="3.7"/>
<circle cx="350.6" cy="723.9" r="3.7"/>
<circle cx="364.7" cy="738.2" r="3.7"/>
<circle cx="351.6" cy="719.4" r="3.7"/>
<circle cx="356.0" cy="738.5" r="3.7"/>
<circle cx="356.8" cy="712.9" r="3.7"/>
<circle cx="351.6" cy="713.7" r="3.7"/>
<circle cx="362.5" cy="732.1" r="3.7"/>
<circle cx="352.2" cy="739.0" r="3.7"/>
<circle cx="364.2" cy="754.2" r="3.7"/>
<circle cx="356.5" cy="735.2" r="3.7"/>
<circle cx="362.6" cy="700.7" r="3.7"/>
<circle cx="369.9" cy="715.4" r="3.7"/>
<circle cx="372.4" cy="710.6" r="3.7"/>
<circle cx="373.1" cy="714.8" r="3.7"/>
<circle cx="371.8" cy="734.5" r="3.7"/>
<circle cx="369.6" cy="726.2" r="3.7"/>
<circle cx="375.4" cy="733.0" r="3.7"/>
<circle cx="368.6" cy="696.8" r="3.7"/>
<circle cx="375.2" cy="711.6" r="3.7"/>
<circle cx="373.8" cy="760.8" r="3.7"/>
<circle cx="371.4" cy="737.6" r="3.7"/>
<circle cx="368.2" cy="722.5" r="3.7"/>
<circle cx="377.1" cy="680.5" r="3.7"/>
<circle cx="373.1" cy="735.5" r="3.7"/>
<circle cx="378.6" cy="726.9" r="3.7"/>
<circle cx="376.5" cy="701.1" r="3.7"/>
<circle cx="367.8" cy="707.4" r="3.7"/>
<circle cx="373.7" cy="704.0" r="3.7"/>
<circle cx="377.8" cy="705.0" r="3.7"/>
<circle cx="374.8" cy="746.9" r="3.7"/>
<circle cx="369.1" cy="694.7" r="3.7"/>
<circle cx="392.5" cy="741.1" r="3.7"/>
<circle cx="383.0" cy="689.3" r="3.7"/>
<circle cx="390.6" cy="710.8" r="3.7"/>
<circle cx="385.8" cy="739.3" r="3.7"/>
<circle cx="386.5" cy="704.9" r="3.7"/>
<circle cx="384.3" cy="718.5" r="3.7"/>
<circle cx="392.8" cy="686.0" r="3.7"/>
<circle cx="380.3" cy="716.9" r="3.7"/>
<circle cx="381.0" cy="726.7" r="3.7"/>
<circle cx="383.7" cy="718.9" r="3.7"/>
<circle cx="380.2" cy="682.0" r="3.7"/>
<circle cx="393.4" cy="734.3" r="3.7"/>
<circle cx="386.7" cy="749.8" r="3.7"/>
<circle cx="386.8" cy="715.3" r="3.7"/>
<circle cx="386.4" cy="705.7" r="3.7"/>
<circle cx="389.4" cy="737.7" r="3.7"/>
<circle cx="386.3" cy="714.0" r="3.7"/>
<circle cx="407.0" cy="707.0" r="3.7"/>
<circle cx="394.1" cy="713.2" r="3.7"/>
<circle cx="406.1" cy="665.5" r="3.7"/>
<circle cx="403.5" cy="723.5" r="3.7"/>
<circle cx="401.9" cy="695.4" r="3.7"/>
<circle cx="405.0" cy="749.9" r="3.7"/>
<circle cx="405.6" cy="734.0" r="3.7"/>
<circle cx="393.8" cy="715.1" r="3.7"/>
<circle cx="397.4" cy="738.4" r="3.7"/>
<circle cx="403.3" cy="732.0" r="3.7"/>
<circle cx="397.0" cy="715.7" r="3.7"/>
<circle cx="397.3" cy="728.9" r="3.7"/>
<circle cx="404.9" cy="728.1" r="3.7"/>
<circle cx="397.4" cy="713.0" r="3.7"/>
<circle cx="397.3" cy="715.7" r="3.7"/>
<circle cx="397.9" cy="729.3" r="3.7"/>
<circle cx="404.1" cy="734.8" r="3.7"/>
<circle cx="394.7" cy="746.3" r="3.7"/>
<circle cx="397.1" cy="719.5" r="3.7"/>
<circle cx="398.9" cy="707.4" r="3.7"/>
<circle cx="413.4" cy="724.9" r="3.7"/>
<circle cx="421.1" cy="716.3" r="3.7"/>
<circle cx="421.8" cy="714.6" r="3.7"/>
<circle cx="412.9" cy="715.1" r="3.7"/>
<circle cx="421.6" cy="726.1" r="3.7"/>
<circle cx="409.9" cy="736.2" r="3.7"/>
<circle cx="421.6" cy="750.6" r="3.7"/>
<circle cx="413.3" cy="713.9" r="3.7"/>
<circle cx="409.0" cy="714.4" r="3.7"/>
<circle cx="413.0" cy="710.3" r="3.7"/>
<circle cx="409.7" cy="718.7" r="3.7"/>
<circle cx="415.7" cy="745.9" r="3.7"/>
<circle cx="421.6" cy="733.1" r="3.7"/>
<circle cx="411.2" cy="711.1" r="3.7"/>
<circle cx="421.3" cy="716.6" r="3.7"/>
<circle cx="410.3" cy="732.1" r="3.7"/>
<circle cx="419.4" cy="705.5" r="3.7"/>
<circle cx="414.6" cy="745.8" r="3.7"/>
<circle cx="410.7" cy="740.2" r="3.7"/>
<circle cx="422.0" cy="697.4" r="3.7"/>
<circle cx="408.7" cy="718.7" r="3.7"/>
<circle cx="410.5" cy="692.0" r="3.7"/>
<circle cx="422.9" cy="720.5" r="3.7"/>
<circle cx="431.2" cy="734.2" r="3.7"/>
<circle cx="426.9" cy="710.1" r="3.7"/>
<circle cx="435.0" cy="736.3" r="3.7"/>
<circle cx="429.0" cy="730.2" r="3.7"/>
<circle cx="435.5" cy="718.9" r="3.7"/>
<circle cx="435.0" cy="687.5" r="3.7"/>
<circle cx="429.6" cy="710.2" r="3.7"/>
<circle cx="432.7" cy="723.8" r="3.7"/>
<circle cx="430.7" cy="702.6" r="3.7"/>
<circle cx="423.7" cy="692.1" r="3.7"/>
<circle cx="427.3" cy="739.1" r="3.7"/>
<circle cx="429.7" cy="729.0" r="3.7"/>
<circle cx="422.4" cy="734.5" r="3.7"/>
<circle cx="431.4" cy="722.3" r="3.7"/>
<circle cx="423.6" cy="739.9" r="3.7"/>
<circle cx="436.3" cy="722.3" r="3.7"/>
<circle cx="428.7" cy="699.3" r="3.7"/>
<circle cx="434.2" cy="708.9" r="3.7"/>
<circle cx="426.0" cy="708.0" r="3.7"/>
<circle cx="430.3" cy="732.8" r="3.7"/>
<circle cx="429.4" cy="735.0" r="3.7"/>
<circle cx="429.6" cy="721.2" r="3.7"/>
<circle cx="425.2" cy="716.4" r="3.7"/>
<circle cx="436.4" cy="694.8" r="3.7"/>
<circle cx="432.2" cy="715.6" r="3.7"/>
<circle cx="439.4" cy="731.3" r="3.7"/>
<circle cx="445.6" cy="746.4" r="3.7"/>
<circle cx="447.1" cy="694.4" r="3.7"/>
<circle cx="448.0" cy="711.7" r="3.7"/>
<circle cx="444.9" cy="702.5" r="3.7"/>
<circle cx="442.2" cy="730.1" r="3.7"/>
<circle cx="437.0" cy="708.4" r="3.7"/>
<circle cx="446.1" cy="699.9" r="3.7"/>
<circle cx="446.7" cy="735.7" r="3.7"/>
<circle cx="439.4" cy="723.9" r="3.7"/>
<circle cx="446.6" cy="710.0" r="3.7"/>
<circle cx="449.8" cy="727.4" r="3.7"/>
<circle cx="450.4" cy="750.8" r="3.7"/>
<circle cx="441.5" cy="748.9" r="3.7"/>
<circle cx="444.2" cy="726.6" r="3.7"/>
<circle cx="444.4" cy="722.3" r="3.7"/>
<circle cx="447.4" cy="722.6" r="3.7"/>
<circle cx="440.2" cy="712.6" r="3.7"/>
<circle cx="437.7" cy="709.3" r="3.7"/>
<circle cx="450.3" cy="718.1" r="3.7"/>
<circle cx="442.7" cy="731.8" r="3.7"/>
<circle cx="450.5" cy="716.5" r="3.7"/>
<circle cx="442.9" cy="732.7" r="3.7"/>
<circle cx="445.9" cy="746.1" r="3.7"/>
<circle cx="449.7" cy="722.8" r="3.7"/>
<circle cx="444.3" cy="703.8" r="3.7"/>
<circle cx="447.7" cy="714.6" r="3.7"/>
<circle cx="440.6" cy="719.6" r="3.7"/>
<circle cx="447.1" cy="733.4" r="3.7"/>
<circle cx="446.8" cy="699.3" r="3.7"/>
<circle cx="442.9" cy="709.2" r="3.7"/>
<circle cx="449.5" cy="712.0" r="3.7"/>
<circle cx="437.7" cy="725.4" r="3.7"/>
<circle cx="438.5" cy="699.6" r="3.7"/>
<circle cx="475.4" cy="733.0" r="3.7"/>
<circle cx="469.3" cy="748.9" r="3.7"/>
<circle cx="473.1" cy="708.2" r="3.7"/>
<circle cx="467.6" cy="720.4" r="3.7"/>
<circle cx="478.0" cy="712.2" r="3.7"/>
<circle cx="467.1" cy="727.2" r="3.7"/>
<circle cx="476.8" cy="723.4" r="3.7"/>
<circle cx="475.4" cy="680.8" r="3.7"/>
<circle cx="477.8" cy="717.0" r="3.7"/>
<circle cx="470.3" cy="699.8" r="3.7"/>
<circle cx="468.6" cy="735.5" r="3.7"/>
<circle cx="477.1" cy="720.5" r="3.7"/>
<circle cx="474.2" cy="711.9" r="3.7"/>
<circle cx="474.3" cy="723.5" r="3.7"/>
<circle cx="479.3" cy="731.4" r="3.7"/>
<circle cx="477.3" cy="709.0" r="3.7"/>
<circle cx="475.1" cy="715.9" r="3.7"/>
<circle cx="468.5" cy="710.2" r="3.7"/>
<circle cx="477.9" cy="720.5" r="3.7"/>
<circle cx="475.7" cy="708.4" r="3.7"/>
<circle cx="475.4" cy="695.9" r="3.7"/>
<circle cx="473.8" cy="711.5" r="3.7"/>
<circle cx="466.1" cy="748.9" r="3.7"/>
<circle cx="477.8" cy="687.9" r="3.7"/>
<circle cx="466.9" cy="699.6" r="3.7"/>
<circle cx="469.3" cy="719.6" r="3.7"/>
<circle cx="475.4" cy="730.0" r="3.7"/>
<circle cx="473.5" cy="707.4" r="3.7"/>
<circle cx="470.6" cy="722.5" r="3.7"/>
<circle cx="489.2" cy="739.0" r="3.7"/>
<circle cx="487.0" cy="735.4" r="3.7"/>
<circle cx="486.5" cy="714.8" r="3.7"/>
<circle cx="487.4" cy="715.0" r="3.7"/>
<circle cx="480.1" cy="753.5" r="3.7"/>
<circle cx="480.2" cy="716.6" r="3.7"/>
<circle cx="482.5" cy="742.7" r="3.7"/>
<circle cx="491.8" cy="732.0" r="3.7"/>
<circle cx="486.3" cy="743.7" r="3.7"/>
<circle cx="487.7" cy="688.7" r="3.7"/>
<circle cx="491.8" cy="754.3" r="3.7"/>
<circle cx="483.3" cy="704.1" r="3.7"/>
<circle cx="484.2" cy="726.0" r="3.7"/>
<circle cx="487.2" cy="716.7" r="3.7"/>
<circle cx="480.0" cy="723.0" r="3.7"/>
<circle cx="485.4" cy="727.3" r="3.7"/>
<circle cx="493.3" cy="728.2" r="3.7"/>
<circle cx="490.7" cy="739.3" r="3.7"/>
<circle cx="486.4" cy="733.5" r="3.7"/>
<circle cx="495.0" cy="692.0" r="3.7"/>
<circle cx="496.2" cy="721.5" r="3.7"/>
<circle cx="500.9" cy="719.1" r="3.7"/>
<circle cx="498.8" cy="724.3" r="3.7"/>
<circle cx="503.3" cy="694.4" r="3.7"/>
<circle cx="507.6" cy="704.0" r="3.7"/>
<circle cx="506.0" cy="717.4" r="3.7"/>
<circle cx="504.4" cy="715.6" r="3.7"/>
<circle cx="497.6" cy="706.4" r="3.7"/>
<circle cx="507.3" cy="725.2" r="3.7"/>
<circle cx="497.5" cy="727.6" r="3.7"/>
<circle cx="515.7" cy="727.5" r="3.7"/>
<circle cx="516.6" cy="721.9" r="3.7"/>
<circle cx="509.6" cy="712.9" r="3.7"/>
<circle cx="509.0" cy="716.3" r="3.7"/>
<circle cx="517.4" cy="706.9" r="3.7"/>
<circle cx="519.4" cy="723.5" r="3.7"/>
<circle cx="510.6" cy="727.4" r="3.7"/>
<circle cx="509.0" cy="692.3" r="3.7"/>
<circle cx="509.7" cy="717.1" r="3.7"/>
<circle cx="520.7" cy="722.0" r="3.7"/>
<circle cx="512.6" cy="742.6" r="3.7"/>
<circle cx="528.4" cy="706.9" r="3.7"/>
<circle cx="523.4" cy="730.0" r="3.7"/>
<circle cx="523.0" cy="729.1" r="3.7"/>
<circle cx="531.3" cy="737.3" r="3.7"/>
<circle cx="524.8" cy="710.8" r="3.7"/>
<circle cx="533.0" cy="739.0" r="3.7"/>
<circle cx="523.4" cy="705.6" r="3.7"/>
<circle cx="527.1" cy="722.6" r="3.7"/>
<circle cx="536.1" cy="749.0" r="3.7"/>
<circle cx="528.5" cy="707.2" r="3.7"/>
<circle cx="550.1" cy="707.0" r="3.7"/>
<circle cx="550.0" cy="693.8" r="3.7"/>
<circle cx="551.0" cy="722.8" r="3.7"/>
<circle cx="543.0" cy="730.0" r="3.7"/>
<circle cx="538.1" cy="725.7" r="3.7"/>
<circle cx="541.2" cy="731.7" r="3.7"/>
<circle cx="543.6" cy="704.2" r="3.7"/>
<circle cx="551.4" cy="723.7" r="3.7"/>
<circle cx="539.9" cy="708.3" r="3.7"/>
<circle cx="540.1" cy="712.0" r="3.7"/>
<circle cx="537.2" cy="727.4" r="3.7"/>
<circle cx="541.2" cy="701.2" r="3.7"/>
<circle cx="547.5" cy="723.8" r="3.7"/>
<circle cx="544.1" cy="727.7" r="3.7"/>
<circle cx="543.3" cy="751.8" r="3.7"/>
<circle cx="542.9" cy="732.1" r="3.7"/>
<circle cx="547.1" cy="699.7" r="3.7"/>
<circle cx="553.9" cy="686.1" r="3.7"/>
<circle cx="554.2" cy="725.0" r="3.7"/>
<circle cx="565.5" cy="742.1" r="3.7"/>
<circle cx="553.0" cy="706.3" r="3.7"/>
<circle cx="561.4" cy="718.9" r="3.7"/>
<circle cx="563.9" cy="727.7" r="3.7"/>
<circle cx="551.9" cy="717.3" r="3.7"/>
<circle cx="552.0" cy="719.7" r="3.7"/>
<circle cx="553.4" cy="718.0" r="3.7"/>
<circle cx="563.4" cy="726.9" r="3.7"/>
<circle cx="562.0" cy="716.3" r="3.7"/>
<circle cx="559.5" cy="748.7" r="3.7"/>
<circle cx="565.6" cy="737.4" r="3.7"/>
<circle cx="562.7" cy="693.0" r="3.7"/>
<circle cx="555.4" cy="735.2" r="3.7"/>
<circle cx="558.9" cy="727.8" r="3.7"/>
<circle cx="560.3" cy="723.0" r="3.7"/>
<circle cx="565.8" cy="719.3" r="3.7"/>
<circle cx="558.8" cy="734.6" r="3.7"/>
<circle cx="557.2" cy="707.4" r="3.7"/>
<circle cx="558.5" cy="730.9" r="3.7"/>
<circle cx="565.9" cy="708.0" r="3.7"/>
<circle cx="561.3" cy="718.2" r="3.7"/>
<circle cx="553.7" cy="740.7" r="3.7"/>
<circle cx="558.0" cy="713.1" r="3.7"/>
<circle cx="556.9" cy="658.6" r="3.7"/>
<circle cx="558.5" cy="729.3" r="3.7"/>
<circle cx="579.9" cy="711.8" r="3.7"/>
<circle cx="567.8" cy="728.6" r="3.7"/>
<circle cx="577.0" cy="742.0" r="3.7"/>
<circle cx="578.5" cy="707.5" r="3.7"/>
<circle cx="571.3" cy="725.5" r="3.7"/>
<circle cx="571.2" cy="731.1" r="3.7"/>
<circle cx="578.1" cy="733.8" r="3.7"/>
<circle cx="575.7" cy="714.4" r="3.7"/>
<circle cx="569.5" cy="735.0" r="3.7"/>
<circle cx="567.4" cy="712.4" r="3.7"/>
<circle cx="571.4" cy="755.0" r="3.7"/>
<circle cx="85.4" cy="698.3" r="3.7"/>
<circle cx="80.5" cy="721.3" r="3.7"/>
<circle cx="78.1" cy="688.7" r="3.7"/>
<circle cx="80.4" cy="683.0" r="3.7"/>
<circle cx="83.6" cy="701.8" r="3.7"/>
<circle cx="79.8" cy="703.7" r="3.7"/>
<circle cx="83.9" cy="710.8" r="3.7"/>
<circle cx="78.0" cy="721.0" r="3.7"/>
<circle cx="87.7" cy="740.0" r="3.7"/>
<circle cx="80.3" cy="707.2" r="3.7"/>
<circle cx="80.2" cy="712.3" r="3.7"/>
<circle cx="80.8" cy="738.9" r="3.7"/>
<circle cx="87.1" cy="715.2" r="3.7"/>
<circle cx="83.9" cy="725.5" r="3.7"/>
<circle cx="86.5" cy="713.1" r="3.7"/>
<circle cx="91.7" cy="681.3" r="3.7"/>
<circle cx="90.1" cy="687.7" r="3.7"/>
<circle cx="85.3" cy="733.0" r="3.7"/>
<circle cx="88.7" cy="695.3" r="3.7"/>
<circle cx="87.0" cy="705.5" r="3.7"/>
<circle cx="80.8" cy="712.7" r="3.7"/>
<circle cx="82.0" cy="711.7" r="3.7"/>
<circle cx="89.0" cy="718.0" r="3.7"/>
<circle cx="94.9" cy="742.1" r="3.7"/>
<circle cx="78.3" cy="741.0" r="3.7"/>
<circle cx="92.4" cy="712.0" r="3.7"/>
<circle cx="80.2" cy="725.5" r="3.7"/>
<circle cx="86.4" cy="720.2" r="3.7"/>
<circle cx="91.3" cy="719.5" r="3.7"/>
<circle cx="81.9" cy="737.1" r="3.7"/>
<circle cx="129.1" cy="713.9" r="3.7"/>
<circle cx="110.6" cy="722.8" r="3.7"/>
<circle cx="107.8" cy="696.6" r="3.7"/>
<circle cx="115.3" cy="684.7" r="3.7"/>
<circle cx="119.0" cy="735.9" r="3.7"/>
<circle cx="114.4" cy="712.7" r="3.7"/>
<circle cx="128.8" cy="731.2" r="3.7"/>
<circle cx="129.5" cy="691.6" r="3.7"/>
<circle cx="106.5" cy="723.3" r="3.7"/>
<circle cx="131.8" cy="718.9" r="3.7"/>
<circle cx="108.4" cy="719.7" r="3.7"/>
<circle cx="123.4" cy="691.3" r="3.7"/>
<circle cx="125.6" cy="732.5" r="3.7"/>
<circle cx="112.3" cy="707.4" r="3.7"/>
<circle cx="119.7" cy="718.0" r="3.7"/>
<circle cx="109.5" cy="694.4" r="3.7"/>
<circle cx="110.4" cy="710.9" r="3.7"/>
<circle cx="123.1" cy="699.4" r="3.7"/>
<circle cx="106.5" cy="688.4" r="3.7"/>
<circle cx="117.3" cy="719.2" r="3.7"/>
<circle cx="111.0" cy="698.0" r="3.7"/>
<circle cx="111.5" cy="753.6" r="3.7"/>
<circle cx="128.1" cy="702.3" r="3.7"/>
<circle cx="112.4" cy="749.2" r="3.7"/>
<circle cx="109.9" cy="711.3" r="3.7"/>
<circle cx="592.6" cy="711.9" r="3.7"/>
<circle cx="592.7" cy="724.1" r="3.7"/>
<circle cx="585.1" cy="717.7" r="3.7"/>
<circle cx="583.6" cy="728.8" r="3.7"/>
<circle cx="590.9" cy="732.3" r="3.7"/>
<circle cx="586.3" cy="730.2" r="3.7"/>
<circle cx="585.4" cy="715.4" r="3.7"/>
<circle cx="586.5" cy="725.3" r="3.7"/>
<circle cx="584.8" cy="734.1" r="3.7"/>
<circle cx="588.0" cy="716.6" r="3.7"/>
<circle cx="585.6" cy="716.0" r="3.7"/>
<circle cx="585.2" cy="714.3" r="3.7"/>
<circle cx="586.1" cy="717.7" r="3.7"/>
<circle cx="593.2" cy="717.2" r="3.7"/>
<circle cx="584.6" cy="720.9" r="3.7"/>
<circle cx="585.3" cy="720.8" r="3.7"/>
<circle cx="588.4" cy="713.2" r="3.7"/>
<circle cx="591.7" cy="723.5" r="3.7"/>
<circle cx="581.7" cy="714.1" r="3.7"/>
<circle cx="580.5" cy="717.9" r="3.7"/>
<circle cx="590.2" cy="726.3" r="3.7"/>
<circle cx="591.1" cy="712.6" r="3.7"/>
<circle cx="584.6" cy="715.1" r="3.7"/>
<circle cx="590.8" cy="719.3" r="3.7"/>
<circle cx="586.5" cy="727.7" r="3.7"/>
<circle cx="585.1" cy="737.3" r="3.7"/>
<circle cx="583.9" cy="715.2" r="3.7"/>
<circle cx="591.4" cy="705.9" r="3.7"/>
<circle cx="91.3" cy="658.4" r="3.7"/>
<circle cx="232.1" cy="646.7" r="3.7"/>
<circle cx="265.8" cy="661.7" r="3.7"/>
<circle cx="300.3" cy="646.7" r="3.7"/>
<circle cx="449.6" cy="653.4" r="3.7"/>
<circle cx="451.1" cy="660.1" r="3.7"/>
<circle cx="551.6" cy="645.0" r="3.7"/>
<circle cx="554.5" cy="675.1" r="3.7"/>
<circle cx="521.4" cy="675.1" r="3.7"/>
</g>
<polyline fill="none" stroke="#a0a0a0" stroke-width="2.8" stroke-linejoin="round" points="78.0,784.0 79.6,783.2 88.1,777.2 100.2,772.3 112.3,768.7 126.0,766.3 135.9,763.4 139.0,761.0 146.6,756.0 156.7,743.3 176.9,737.0 192.0,730.7 214.7,725.7 230.0,718.7 246.9,713.0 261.0,710.2 270.0,707.1 277.9,705.5 280.5,703.7 282.0,694.0 284.7,687.5 299.4,677.7 319.0,670.4 338.5,663.0 358.1,654.2 377.7,647.4 397.3,641.0 416.9,633.7 436.5,626.3 440.0,622.5 446.3,619.0 465.8,615.0 485.4,606.7 505.0,601.8 524.6,596.9 544.2,593.5 558.9,588.6 573.6,582.2 593.1,577.3 595.7,577.0"/>
<g fill="#f47f7f" stroke="#3a2626" stroke-width="0.85">
<circle cx="84.2" cy="765.5" r="3.7"/>
<circle cx="85.0" cy="749.3" r="3.7"/>
<circle cx="80.4" cy="756.5" r="3.7"/>
<circle cx="79.1" cy="740.0" r="3.7"/>
<circle cx="93.4" cy="731.5" r="3.7"/>
<circle cx="106.2" cy="756.9" r="3.7"/>
<circle cx="101.5" cy="703.3" r="3.7"/>
<circle cx="92.9" cy="743.6" r="3.7"/>
<circle cx="95.5" cy="724.7" r="3.7"/>
<circle cx="104.2" cy="736.0" r="3.7"/>
<circle cx="101.3" cy="757.4" r="3.7"/>
<circle cx="96.1" cy="738.6" r="3.7"/>
<circle cx="106.4" cy="728.0" r="3.7"/>
<circle cx="95.4" cy="755.5" r="3.7"/>
<circle cx="93.1" cy="737.4" r="3.7"/>
<circle cx="97.6" cy="751.5" r="3.7"/>
<circle cx="104.2" cy="729.9" r="3.7"/>
<circle cx="98.8" cy="738.6" r="3.7"/>
<circle cx="97.8" cy="722.6" r="3.7"/>
<circle cx="95.9" cy="730.7" r="3.7"/>
<circle cx="110.1" cy="737.1" r="3.7"/>
<circle cx="107.5" cy="749.9" r="3.7"/>
<circle cx="114.8" cy="737.9" r="3.7"/>
<circle cx="112.9" cy="721.4" r="3.7"/>
<circle cx="113.4" cy="761.4" r="3.7"/>
<circle cx="108.6" cy="750.2" r="3.7"/>
<circle cx="118.2" cy="738.6" r="3.7"/>
<circle cx="119.9" cy="730.4" r="3.7"/>
<circle cx="120.1" cy="725.9" r="3.7"/>
<circle cx="107.9" cy="750.3" r="3.7"/>
<circle cx="120.2" cy="737.2" r="3.7"/>
<circle cx="118.2" cy="718.9" r="3.7"/>
<circle cx="129.0" cy="735.7" r="3.7"/>
<circle cx="126.0" cy="711.1" r="3.7"/>
<circle cx="130.7" cy="761.2" r="3.7"/>
<circle cx="122.8" cy="736.3" r="3.7"/>
<circle cx="130.8" cy="738.1" r="3.7"/>
<circle cx="139.3" cy="732.3" r="3.7"/>
<circle cx="139.3" cy="731.3" r="3.7"/>
<circle cx="140.0" cy="724.1" r="3.7"/>
<circle cx="139.5" cy="761.4" r="3.7"/>
<circle cx="139.4" cy="743.5" r="3.7"/>
<circle cx="139.3" cy="751.6" r="3.7"/>
<circle cx="139.5" cy="706.0" r="3.7"/>
<circle cx="139.5" cy="706.9" r="3.7"/>
<circle cx="139.7" cy="741.8" r="3.7"/>
<circle cx="139.4" cy="735.4" r="3.7"/>
<circle cx="139.5" cy="712.2" r="3.7"/>
<circle cx="140.2" cy="738.3" r="3.7"/>
<circle cx="139.8" cy="726.0" r="3.7"/>
<circle cx="139.3" cy="731.4" r="3.7"/>
<circle cx="139.4" cy="710.3" r="3.7"/>
<circle cx="139.7" cy="703.3" r="3.7"/>
<circle cx="139.9" cy="745.0" r="3.7"/>
<circle cx="139.5" cy="745.1" r="3.7"/>
<circle cx="139.7" cy="748.8" r="3.7"/>
<circle cx="139.9" cy="731.5" r="3.7"/>
<circle cx="139.6" cy="742.6" r="3.7"/>
<circle cx="140.0" cy="734.1" r="3.7"/>
<circle cx="140.5" cy="757.5" r="3.7"/>
<circle cx="140.3" cy="759.5" r="3.7"/>
<circle cx="139.4" cy="718.2" r="3.7"/>
<circle cx="139.6" cy="713.1" r="3.7"/>
<circle cx="139.6" cy="735.9" r="3.7"/>
<circle cx="140.8" cy="733.5" r="3.7"/>
<circle cx="147.8" cy="729.4" r="3.7"/>
<circle cx="141.8" cy="727.3" r="3.7"/>
<circle cx="145.8" cy="726.7" r="3.7"/>
<circle cx="143.9" cy="745.3" r="3.7"/>
<circle cx="147.6" cy="746.3" r="3.7"/>
<circle cx="149.1" cy="734.3" r="3.7"/>
<circle cx="144.2" cy="739.5" r="3.7"/>
<circle cx="141.2" cy="713.3" r="3.7"/>
<circle cx="146.6" cy="729.2" r="3.7"/>
<circle cx="141.2" cy="732.2" r="3.7"/>
<circle cx="146.5" cy="716.6" r="3.7"/>
<circle cx="144.7" cy="749.3" r="3.7"/>
<circle cx="143.4" cy="747.0" r="3.7"/>
<circle cx="147.4" cy="725.0" r="3.7"/>
<circle cx="148.8" cy="733.9" r="3.7"/>
<circle cx="146.7" cy="719.0" r="3.7"/>
<circle cx="145.7" cy="718.2" r="3.7"/>
<circle cx="148.6" cy="744.3" r="3.7"/>
<circle cx="151.6" cy="752.7" r="3.7"/>
<circle cx="159.4" cy="732.6" r="3.7"/>
<circle cx="156.6" cy="724.6" r="3.7"/>
<circle cx="157.1" cy="732.2" r="3.7"/>
<circle cx="160.0" cy="741.3" r="3.7"/>
<circle cx="157.5" cy="743.4" r="3.7"/>
<circle cx="155.0" cy="713.3" r="3.7"/>
<circle cx="161.7" cy="755.2" r="3.7"/>
<circle cx="157.0" cy="738.7" r="3.7"/>
<circle cx="156.7" cy="734.5" r="3.7"/>
<circle cx="149.9" cy="713.7" r="3.7"/>
<circle cx="161.0" cy="733.5" r="3.7"/>
<circle cx="156.6" cy="732.2" r="3.7"/>
<circle cx="155.4" cy="735.1" r="3.7"/>
<circle cx="162.8" cy="732.2" r="3.7"/>
<circle cx="155.7" cy="714.5" r="3.7"/>
<circle cx="162.4" cy="742.4" r="3.7"/>
<circle cx="158.4" cy="728.5" r="3.7"/>
<circle cx="151.4" cy="729.8" r="3.7"/>
<circle cx="152.8" cy="733.3" r="3.7"/>
<circle cx="154.1" cy="742.3" r="3.7"/>
<circle cx="160.0" cy="714.9" r="3.7"/>
<circle cx="156.8" cy="730.3" r="3.7"/>
<circle cx="155.8" cy="721.0" r="3.7"/>
<circle cx="155.4" cy="738.5" r="3.7"/>
<circle cx="158.6" cy="731.8" r="3.7"/>
<circle cx="157.1" cy="718.8" r="3.7"/>
<circle cx="152.8" cy="745.8" r="3.7"/>
<circle cx="173.0" cy="737.6" r="3.7"/>
<circle cx="173.4" cy="737.5" r="3.7"/>
<circle cx="173.3" cy="746.0" r="3.7"/>
<circle cx="178.2" cy="737.6" r="3.7"/>
<circle cx="173.9" cy="684.2" r="3.7"/>
<circle cx="174.5" cy="769.5" r="3.7"/>
<circle cx="169.6" cy="721.5" r="3.7"/>
<circle cx="165.3" cy="727.4" r="3.7"/>
<circle cx="176.9" cy="746.2" r="3.7"/>
<circle cx="172.0" cy="735.5" r="3.7"/>
<circle cx="173.0" cy="728.3" r="3.7"/>
<circle cx="174.8" cy="735.5" r="3.7"/>
<circle cx="177.2" cy="721.8" r="3.7"/>
<circle cx="171.0" cy="716.9" r="3.7"/>
<circle cx="164.7" cy="716.5" r="3.7"/>
<circle cx="172.4" cy="735.3" r="3.7"/>
<circle cx="168.0" cy="740.4" r="3.7"/>
<circle cx="174.2" cy="745.2" r="3.7"/>
<circle cx="164.1" cy="730.2" r="3.7"/>
<circle cx="191.7" cy="733.0" r="3.7"/>
<circle cx="189.9" cy="745.9" r="3.7"/>
<circle cx="179.9" cy="741.3" r="3.7"/>
<circle cx="179.0" cy="741.2" r="3.7"/>
<circle cx="180.0" cy="749.8" r="3.7"/>
<circle cx="182.0" cy="723.0" r="3.7"/>
<circle cx="184.2" cy="727.3" r="3.7"/>
<circle cx="203.0" cy="744.7" r="3.7"/>
<circle cx="197.7" cy="750.6" r="3.7"/>
<circle cx="197.8" cy="727.3" r="3.7"/>
<circle cx="205.8" cy="728.5" r="3.7"/>
<circle cx="205.7" cy="761.3" r="3.7"/>
<circle cx="197.1" cy="733.1" r="3.7"/>
<circle cx="206.0" cy="734.0" r="3.7"/>
<circle cx="217.5" cy="737.0" r="3.7"/>
<circle cx="209.0" cy="744.2" r="3.7"/>
<circle cx="216.3" cy="740.8" r="3.7"/>
<circle cx="214.4" cy="732.6" r="3.7"/>
<circle cx="212.6" cy="757.7" r="3.7"/>
<circle cx="214.0" cy="714.2" r="3.7"/>
<circle cx="217.3" cy="748.0" r="3.7"/>
<circle cx="218.8" cy="766.9" r="3.7"/>
<circle cx="219.2" cy="733.2" r="3.7"/>
<circle cx="220.7" cy="762.4" r="3.7"/>
<circle cx="214.5" cy="746.5" r="3.7"/>
<circle cx="213.0" cy="762.1" r="3.7"/>
<circle cx="234.4" cy="749.1" r="3.7"/>
<circle cx="228.2" cy="728.2" r="3.7"/>
<circle cx="222.0" cy="720.5" r="3.7"/>
<circle cx="228.9" cy="747.9" r="3.7"/>
<circle cx="225.2" cy="723.4" r="3.7"/>
<circle cx="221.5" cy="742.1" r="3.7"/>
<circle cx="226.6" cy="735.4" r="3.7"/>
<circle cx="223.6" cy="759.2" r="3.7"/>
<circle cx="239.3" cy="734.7" r="3.7"/>
<circle cx="249.2" cy="722.0" r="3.7"/>
<circle cx="246.1" cy="751.7" r="3.7"/>
<circle cx="237.7" cy="721.1" r="3.7"/>
<circle cx="245.4" cy="742.6" r="3.7"/>
<circle cx="247.7" cy="748.0" r="3.7"/>
<circle cx="255.2" cy="750.7" r="3.7"/>
<circle cx="251.8" cy="734.2" r="3.7"/>
<circle cx="257.8" cy="741.6" r="3.7"/>
<circle cx="258.1" cy="742.9" r="3.7"/>
<circle cx="261.8" cy="714.2" r="3.7"/>
<circle cx="251.8" cy="736.1" r="3.7"/>
<circle cx="253.5" cy="749.4" r="3.7"/>
<circle cx="273.0" cy="752.5" r="3.7"/>
<circle cx="274.3" cy="737.9" r="3.7"/>
<circle cx="275.2" cy="779.0" r="3.7"/>
<circle cx="276.7" cy="736.8" r="3.7"/>
<circle cx="270.6" cy="764.2" r="3.7"/>
<circle cx="283.9" cy="753.7" r="3.7"/>
<circle cx="279.4" cy="714.9" r="3.7"/>
<circle cx="285.9" cy="735.1" r="3.7"/>
<circle cx="292.8" cy="748.1" r="3.7"/>
<circle cx="305.6" cy="752.2" r="3.7"/>
<circle cx="298.8" cy="738.7" r="3.7"/>
<circle cx="301.0" cy="749.2" r="3.7"/>
<circle cx="306.6" cy="753.8" r="3.7"/>
<circle cx="315.7" cy="733.9" r="3.7"/>
<circle cx="307.9" cy="748.9" r="3.7"/>
<circle cx="316.0" cy="749.1" r="3.7"/>
<circle cx="309.6" cy="776.9" r="3.7"/>
<circle cx="312.0" cy="732.3" r="3.7"/>
<circle cx="321.7" cy="759.4" r="3.7"/>
<circle cx="321.7" cy="725.6" r="3.7"/>
<circle cx="310.8" cy="730.4" r="3.7"/>
<circle cx="319.4" cy="754.3" r="3.7"/>
<circle cx="314.8" cy="735.3" r="3.7"/>
<circle cx="328.5" cy="735.4" r="3.7"/>
<circle cx="330.6" cy="735.1" r="3.7"/>
<circle cx="324.6" cy="721.1" r="3.7"/>
<circle cx="339.3" cy="731.1" r="3.7"/>
<circle cx="338.2" cy="739.9" r="3.7"/>
<circle cx="346.8" cy="733.0" r="3.7"/>
<circle cx="345.1" cy="735.6" r="3.7"/>
<circle cx="339.8" cy="732.0" r="3.7"/>
<circle cx="337.9" cy="757.5" r="3.7"/>
<circle cx="358.4" cy="746.0" r="3.7"/>
<circle cx="355.9" cy="734.1" r="3.7"/>
<circle cx="357.5" cy="736.6" r="3.7"/>
<circle cx="350.7" cy="719.3" r="3.7"/>
<circle cx="364.4" cy="722.9" r="3.7"/>
<circle cx="355.8" cy="738.4" r="3.7"/>
<circle cx="365.4" cy="721.9" r="3.7"/>
<circle cx="370.3" cy="751.6" r="3.7"/>
<circle cx="374.8" cy="763.4" r="3.7"/>
<circle cx="376.1" cy="723.2" r="3.7"/>
<circle cx="373.3" cy="726.7" r="3.7"/>
<circle cx="389.7" cy="698.4" r="3.7"/>
<circle cx="382.9" cy="729.7" r="3.7"/>
<circle cx="382.9" cy="729.4" r="3.7"/>
<circle cx="383.4" cy="728.5" r="3.7"/>
<circle cx="386.6" cy="733.7" r="3.7"/>
<circle cx="391.5" cy="743.7" r="3.7"/>
<circle cx="387.1" cy="740.2" r="3.7"/>
<circle cx="407.6" cy="744.4" r="3.7"/>
<circle cx="398.4" cy="741.0" r="3.7"/>
<circle cx="407.1" cy="709.3" r="3.7"/>
<circle cx="406.0" cy="742.9" r="3.7"/>
<circle cx="393.9" cy="754.7" r="3.7"/>
<circle cx="402.4" cy="737.4" r="3.7"/>
<circle cx="421.1" cy="726.3" r="3.7"/>
<circle cx="419.3" cy="739.0" r="3.7"/>
<circle cx="412.8" cy="735.4" r="3.7"/>
<circle cx="416.5" cy="749.7" r="3.7"/>
<circle cx="414.8" cy="737.5" r="3.7"/>
<circle cx="433.8" cy="746.3" r="3.7"/>
<circle cx="431.7" cy="710.6" r="3.7"/>
<circle cx="448.2" cy="756.0" r="3.7"/>
<circle cx="448.4" cy="740.8" r="3.7"/>
<circle cx="437.0" cy="729.5" r="3.7"/>
<circle cx="441.6" cy="733.6" r="3.7"/>
<circle cx="450.1" cy="753.8" r="3.7"/>
<circle cx="437.6" cy="740.9" r="3.7"/>
<circle cx="449.2" cy="742.9" r="3.7"/>
<circle cx="445.1" cy="727.9" r="3.7"/>
<circle cx="444.0" cy="744.0" r="3.7"/>
<circle cx="444.8" cy="732.6" r="3.7"/>
<circle cx="452.6" cy="729.5" r="3.7"/>
<circle cx="455.6" cy="748.9" r="3.7"/>
<circle cx="444.7" cy="748.6" r="3.7"/>
<circle cx="456.8" cy="738.7" r="3.7"/>
<circle cx="445.7" cy="750.1" r="3.7"/>
<circle cx="444.3" cy="744.8" r="3.7"/>
<circle cx="457.9" cy="718.1" r="3.7"/>
<circle cx="456.5" cy="716.8" r="3.7"/>
<circle cx="444.1" cy="743.4" r="3.7"/>
<circle cx="445.4" cy="754.0" r="3.7"/>
<circle cx="444.5" cy="727.0" r="3.7"/>
<circle cx="444.0" cy="736.9" r="3.7"/>
<circle cx="444.7" cy="729.9" r="3.7"/>
<circle cx="443.9" cy="728.0" r="3.7"/>
<circle cx="445.6" cy="736.4" r="3.7"/>
<circle cx="445.5" cy="751.9" r="3.7"/>
<circle cx="453.0" cy="743.4" r="3.7"/>
<circle cx="461.5" cy="740.0" r="3.7"/>
<circle cx="445.2" cy="755.8" r="3.7"/>
<circle cx="455.2" cy="755.8" r="3.7"/>
<circle cx="445.1" cy="734.2" r="3.7"/>
<circle cx="473.6" cy="726.7" r="3.7"/>
<circle cx="466.5" cy="740.8" r="3.7"/>
<circle cx="480.0" cy="727.4" r="3.7"/>
<circle cx="488.3" cy="738.0" r="3.7"/>
<circle cx="486.5" cy="731.4" r="3.7"/>
<circle cx="484.3" cy="722.0" r="3.7"/>
<circle cx="503.8" cy="734.3" r="3.7"/>
<circle cx="499.0" cy="724.3" r="3.7"/>
<circle cx="503.2" cy="728.6" r="3.7"/>
<circle cx="497.2" cy="736.2" r="3.7"/>
<circle cx="505.1" cy="752.3" r="3.7"/>
<circle cx="495.6" cy="711.0" r="3.7"/>
<circle cx="497.9" cy="729.5" r="3.7"/>
<circle cx="520.6" cy="747.1" r="3.7"/>
<circle cx="517.5" cy="768.9" r="3.7"/>
<circle cx="518.8" cy="741.0" r="3.7"/>
<circle cx="514.0" cy="736.7" r="3.7"/>
<circle cx="509.2" cy="703.2" r="3.7"/>
<circle cx="513.2" cy="730.9" r="3.7"/>
<circle cx="517.0" cy="730.3" r="3.7"/>
<circle cx="524.5" cy="731.5" r="3.7"/>
<circle cx="525.3" cy="720.4" r="3.7"/>
<circle cx="528.3" cy="727.5" r="3.7"/>
<circle cx="551.3" cy="752.8" r="3.7"/>
<circle cx="549.7" cy="747.1" r="3.7"/>
<circle cx="562.8" cy="728.3" r="3.7"/>
<circle cx="577.6" cy="736.1" r="3.7"/>
<circle cx="566.8" cy="740.6" r="3.7"/>
<circle cx="578.7" cy="739.4" r="3.7"/>
<circle cx="556.8" cy="730.5" r="3.7"/>
<circle cx="577.9" cy="734.0" r="3.7"/>
<circle cx="567.4" cy="744.1" r="3.7"/>
<circle cx="561.0" cy="739.2" r="3.7"/>
<circle cx="571.0" cy="739.8" r="3.7"/>
<circle cx="577.9" cy="735.1" r="3.7"/>
<circle cx="569.2" cy="739.5" r="3.7"/>
<circle cx="562.0" cy="746.2" r="3.7"/>
<circle cx="574.4" cy="739.4" r="3.7"/>
<circle cx="572.9" cy="738.0" r="3.7"/>
<circle cx="560.0" cy="749.6" r="3.7"/>
<circle cx="571.6" cy="743.7" r="3.7"/>
<circle cx="86.3" cy="665.1" r="3.7"/>
<circle cx="142.3" cy="678.5" r="3.7"/>
<circle cx="188.3" cy="767.1" r="3.7"/>
<circle cx="242.8" cy="767.1" r="3.7"/>
<circle cx="266.5" cy="680.1" r="3.7"/>
<circle cx="301.7" cy="673.4" r="3.7"/>
<circle cx="456.8" cy="688.5" r="3.7"/>
<circle cx="511.4" cy="656.7" r="3.7"/>
<circle cx="110.7" cy="743.7" r="3.7"/>
</g>
<polyline fill="none" stroke="#1a0000" stroke-width="2.9" stroke-dasharray="9.5,9.3" stroke-dashoffset="0.5" points="78.0,784.0 86.9,783.4 105.0,779.8 123.0,778.0 140.4,775.8 141.5,775.0 144.0,764.3 151.3,764.3 170.4,760.7 186.0,757.6 219.8,752.9 238.0,751.9 268.9,748.8 336.0,744.2 380.0,739.5 420.0,737.0 452.0,733.5 479.5,731.0 509.5,729.0 537.0,726.5 578.0,723.5"/>
<polyline fill="none" stroke="#f00000" stroke-width="2.1" stroke-dasharray="8.5,10.3" points="78.0,784.0 86.9,783.4 105.0,779.8 123.0,778.0 140.4,775.8 141.5,775.0 144.0,764.3 151.3,764.3 170.4,760.7 186.0,757.6 219.8,752.9 238.0,751.9 268.9,748.8 336.0,744.2 380.0,739.5 420.0,737.0 452.0,733.5 479.5,731.0 509.5,729.0 537.0,726.5 578.0,723.5"/>
</g>
<line x1="77.9" y1="577.6" x2="77.9" y2="784.0" stroke="#8a8a8a" stroke-width="1.6"/>
<line x1="77.9" y1="784.0" x2="595.7" y2="784.0" stroke="#333" stroke-width="1.1"/>
<line x1="596.0" y1="577.6" x2="596.0" y2="784.0" stroke="#8f8f8f" stroke-width="1.8"/>
<line x1="77.9" y1="600.6" x2="82.9" y2="600.6" stroke="#3d8fd6" stroke-width="1.1"/>
<text x="77.3" y="606.1" font-size="15.4" text-anchor="end" fill="#262626" font-weight="normal" >1000</text>
<line x1="77.9" y1="639.4" x2="82.9" y2="639.4" stroke="#3d8fd6" stroke-width="1.1"/>
<text x="77.3" y="644.9" font-size="15.4" text-anchor="end" fill="#262626" font-weight="normal" >800</text>
<line x1="77.9" y1="667.1" x2="82.9" y2="667.1" stroke="#3d8fd6" stroke-width="1.1"/>
<text x="77.3" y="672.6" font-size="15.4" text-anchor="end" fill="#262626" font-weight="normal" >600</text>
<line x1="77.9" y1="706.7" x2="82.9" y2="706.7" stroke="#3d8fd6" stroke-width="1.1"/>
<text x="77.3" y="712.2" font-size="15.4" text-anchor="end" fill="#262626" font-weight="normal" >400</text>
<line x1="77.9" y1="745.3" x2="82.9" y2="745.3" stroke="#3d8fd6" stroke-width="1.1"/>
<text x="77.3" y="750.8" font-size="15.4" text-anchor="end" fill="#262626" font-weight="normal" >200</text>
<line x1="77.9" y1="784.0" x2="82.9" y2="784.0" stroke="#3d8fd6" stroke-width="1.1"/>
<text x="77.3" y="789.5" font-size="15.4" text-anchor="end" fill="#262626" font-weight="normal" >0</text>
<line x1="595.7" y1="767.1" x2="590.7" y2="767.1" stroke="#333" stroke-width="1"/>
<text x="603.3" y="772.9" font-size="16" text-anchor="start" fill="#262626" font-weight="normal" >0</text>
<line x1="595.7" y1="733.6" x2="590.7" y2="733.6" stroke="#333" stroke-width="1"/>
<text x="603.3" y="739.4499999999999" font-size="16" text-anchor="start" fill="#262626" font-weight="normal" >1</text>
<line x1="595.7" y1="700.2" x2="590.7" y2="700.2" stroke="#333" stroke-width="1"/>
<text x="603.3" y="706.0" font-size="16" text-anchor="start" fill="#262626" font-weight="normal" >2</text>
<line x1="595.7" y1="666.8" x2="590.7" y2="666.8" stroke="#333" stroke-width="1"/>
<text x="603.3" y="672.55" font-size="16" text-anchor="start" fill="#262626" font-weight="normal" >3</text>
<line x1="595.7" y1="633.3" x2="590.7" y2="633.3" stroke="#333" stroke-width="1"/>
<text x="603.3" y="639.0999999999999" font-size="16" text-anchor="start" fill="#262626" font-weight="normal" >4</text>
<line x1="595.7" y1="599.9" x2="590.7" y2="599.9" stroke="#333" stroke-width="1"/>
<text x="603.3" y="605.65" font-size="16" text-anchor="start" fill="#262626" font-weight="normal" >5</text>
<line x1="121.3" y1="784.0" x2="121.3" y2="779.0" stroke="#333" stroke-width="1"/>
<text x="126.39999999999999" y="802.6" font-size="15.8" text-anchor="middle" fill="#262626" font-weight="normal" >04-01</text>
<line x1="193.1" y1="784.0" x2="193.1" y2="779.0" stroke="#333" stroke-width="1"/>
<text x="198.2" y="802.6" font-size="15.8" text-anchor="middle" fill="#262626" font-weight="normal" >09-01</text>
<line x1="264.9" y1="784.0" x2="264.9" y2="779.0" stroke="#333" stroke-width="1"/>
<text x="270.0" y="802.6" font-size="15.8" text-anchor="middle" fill="#262626" font-weight="normal" >14-01</text>
<line x1="336.7" y1="784.0" x2="336.7" y2="779.0" stroke="#333" stroke-width="1"/>
<text x="341.8" y="802.6" font-size="15.8" text-anchor="middle" fill="#262626" font-weight="normal" >19-01</text>
<line x1="408.5" y1="784.0" x2="408.5" y2="779.0" stroke="#333" stroke-width="1"/>
<text x="413.6" y="802.6" font-size="15.8" text-anchor="middle" fill="#262626" font-weight="normal" >24-01</text>
<line x1="480.3" y1="784.0" x2="480.3" y2="779.0" stroke="#333" stroke-width="1"/>
<text x="485.40000000000003" y="802.6" font-size="15.8" text-anchor="middle" fill="#262626" font-weight="normal" >29-01</text>
<line x1="552.1" y1="784.0" x2="552.1" y2="779.0" stroke="#333" stroke-width="1"/>
<text x="557.1999999999999" y="802.6" font-size="15.8" text-anchor="middle" fill="#262626" font-weight="normal" >03-02</text>
<text x="282" y="819.6" font-size="18" text-anchor="start" fill="#262626" font-weight="normal" >Time [dd-mm]</text>
<text font-size="16.5" fill="#262626" text-anchor="middle" transform="translate(42.3,691.3) rotate(-90)">N events</text>
<text font-size="16.5" fill="#262626" text-anchor="middle" transform="translate(628.5,659.2) rotate(-90)">Magnitude M<tspan font-size="12">L</tspan></text>
<text x="10" y="603.6" font-size="17.5" text-anchor="start" fill="#262626" font-weight="normal" >( c)</text>
<polygon points="280.80,596.30 282.82,602.52 289.36,602.52 284.07,606.36 286.09,612.58 280.80,608.74 275.51,612.58 277.53,606.36 272.24,602.52 278.78,602.52" fill="#ec7420" stroke="#000" stroke-width="0.8" stroke-linejoin="miter"/>
<text x="293" y="624.5" font-size="13" text-anchor="middle" fill="#8f8f8f" font-weight="normal" >Pütürge</text>
<polygon points="558.90,608.50 560.92,614.72 567.46,614.72 562.17,618.56 564.19,624.78 558.90,620.94 553.61,624.78 555.63,618.56 550.34,614.72 556.88,614.72" fill="#5b0f76" stroke="#000" stroke-width="0.8" stroke-linejoin="miter"/>
<text x="563" y="634" font-size="13" text-anchor="middle" fill="#8f8f8f" font-weight="normal" >Osmaniye</text>
<text x="137.3" y="667.7" font-size="14.5" text-anchor="start" fill="#111" font-weight="bold" >C2</text>
<text x="571.2" y="703.2" font-size="14" text-anchor="start" fill="#111" font-weight="bold" >C1</text>
<rect x="84.3" y="583.3" width="181.6" height="55.5" fill="#fff" stroke="#333" stroke-width="1"/>
<text x="87.9" y="600.6" font-size="16.2" text-anchor="start" fill="#111" font-weight="normal" textLength="176.5" lengthAdjust="spacingAndGlyphs">Distance from mainshock</text>
<line x1="87.9" y1="602.2" x2="264.4" y2="602.2" stroke="#333" stroke-width="1"/>
<line x1="105.7" y1="609.8" x2="142.8" y2="609.8" stroke="#e00000" stroke-width="1.6" stroke-dasharray="1.2,0.8"/>
<line x1="105.7" y1="623.1" x2="142.8" y2="623.1" stroke="#9b9b9b" stroke-width="2.2"/>
<circle cx="164.4" cy="610.6" r="3.6" fill="#f47f7f" stroke="#3a2626" stroke-width="0.8"/>
<circle cx="164.4" cy="624.9" r="3.6" fill="none" stroke="#8c8c8c" stroke-width="0.8"/>
<text x="187.3" y="620.3" font-size="15.4" text-anchor="start" fill="#111" font-weight="normal" >&lt; 50 km</text>
<text x="187.3" y="633.7" font-size="15.4" text-anchor="start" fill="#111" font-weight="normal" >&gt; 50 km</text>
</svg></body></html>
